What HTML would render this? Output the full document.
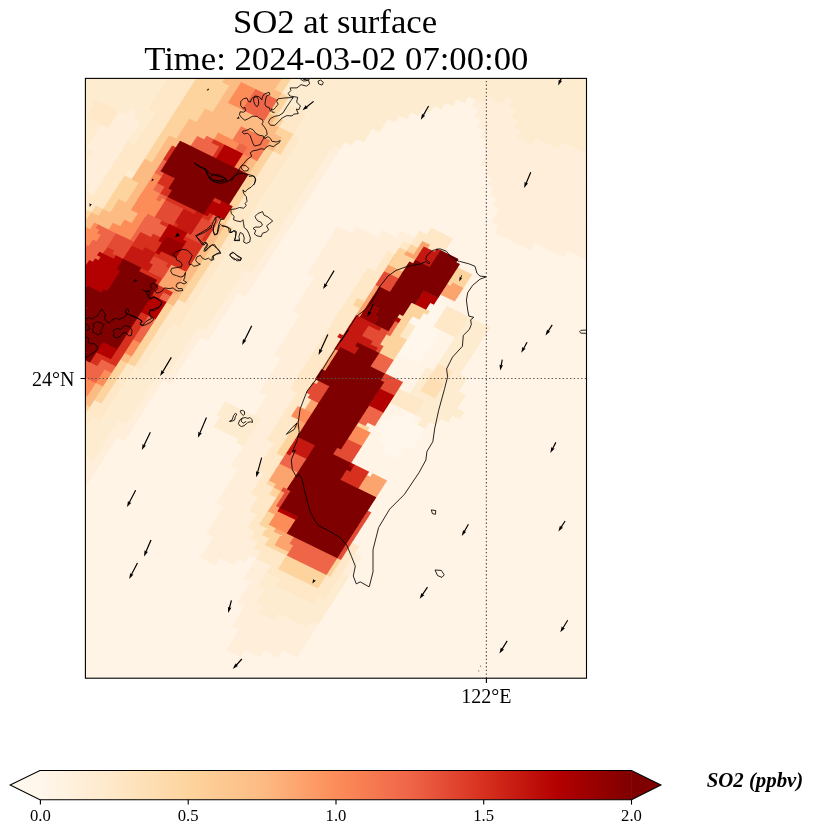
<!DOCTYPE html>
<html><head><meta charset="utf-8"><title>SO2 at surface</title>
<style>html,body{margin:0;padding:0;background:#fff}svg{display:block}text{font-family:"Liberation Serif", serif;fill:#000}</style></head><body>
<svg width="813" height="836" viewBox="0 0 813 836">
<defs><clipPath id="ax"><rect x="85.4" y="78.4" width="501.1" height="599.8000000000001"/></clipPath>
<linearGradient id="cb" x1="0" x2="1" y1="0" y2="0"><stop offset="0%" stop-color="#fff7ec"/><stop offset="12.5%" stop-color="#fee8c8"/><stop offset="25%" stop-color="#fdd49e"/><stop offset="37.5%" stop-color="#fdbb84"/><stop offset="50%" stop-color="#fc8d59"/><stop offset="62.5%" stop-color="#ef6548"/><stop offset="75%" stop-color="#d7301f"/><stop offset="87.5%" stop-color="#b30000"/><stop offset="100%" stop-color="#7f0000"/></linearGradient></defs>
<rect width="813" height="836" fill="#fff"/>
<g clip-path="url(#ax)" shape-rendering="geometricPrecision">
<rect x="85.4" y="78.4" width="501.1" height="599.8000000000001" fill="#fff4e6"/>
<path fill="#fff7ec" d="M381.5 451.7 396.5 459 401.1 451.7 386.2 444.4zM378.6 441.5 400.8 452.3 405.5 445 383.3 434.2zM375.8 431.2 412.3 449 417 441.8 380.4 423.9zM380.1 424.5 416.6 442.3 421.3 435 384.8 417.2zM391.6 421.3 420.9 435.6 425.6 428.3 396.3 414zM403.1 418 410.9 421.8 415.5 414.5 407.8 410.8zM397.4 353.4 419.6 364.2 424.2 356.9 402.1 346.1zM401.7 346.6 423.9 357.4 428.6 350.2 406.4 339.4zM406.1 339.9 428.2 350.7 432.9 343.4 410.7 332.6zM410.4 333.2 432.5 344 437.2 336.7 415.1 325.9zM407.5 322.9 436.9 337.2 441.5 330 412.2 315.7zM411.8 316.2 434 327 438.7 319.7 416.5 308.9zM416.2 309.5 438.3 320.3 443 313 420.8 302.2zM420.5 302.7 442.6 313.5 447.3 306.3 425.1 295.5z"/>
<path fill="#ffefda" d="M226 649.9 240.9 657.2 245.6 649.9 230.6 642.6zM230.3 643.1 259.6 657.4 264.3 650.2 234.9 635.9zM234.6 636.4 278.3 657.7 283 650.5 239.3 629.1zM231.7 626.2 297 658 301.7 650.7 236.4 618.9zM236.1 619.4 301.3 651.3 306 644 240.7 612.2zM240.4 612.7 305.7 644.5 310.3 637.3 245 605.4zM237.5 602.5 259.7 613.3 264.3 606 242.2 595.2zM273.5 620 310 637.8 314.7 630.5 278.1 612.7zM241.8 595.7 256.8 603 261.5 595.8 246.5 588.5zM306.5 627.3 314.3 631.1 319 623.8 311.2 620zM246.1 589 261.1 596.3 265.8 589 250.8 581.7zM200.1 557.7 215.1 565 219.8 557.7 204.8 550.4zM243.3 578.8 258.2 586.1 262.9 578.8 247.9 571.5zM75 487.9 82.8 491.6 87.5 484.4 79.7 480.6zM204.5 551 233.8 565.3 238.5 558 209.1 543.7zM247.6 572 262.6 579.3 267.2 572 252.3 564.8zM79.4 481.1 87.1 484.9 91.8 477.6 84 473.9zM208.8 544.3 245.3 562.1 250 554.8 213.5 537zM251.9 565.3 266.9 572.6 271.5 565.3 256.6 558zM76.5 470.9 91.4 478.2 96.1 470.9 81.2 463.6zM205.9 534 256.8 558.8 261.5 551.6 210.6 526.7zM80.8 464.2 95.8 471.4 100.4 464.2 85.5 456.9zM210.2 527.3 254 548.6 258.6 541.3 214.9 520zM92.3 460.9 100.1 464.7 104.8 457.4 97 453.7zM214.6 520.5 251.1 538.4 255.8 531.1 219.2 513.3zM96.6 454.2 104.4 458 109.1 450.7 101.3 446.9zM218.9 513.8 248.2 528.1 252.9 520.9 223.5 506.5zM341.1 573.4 348.9 577.2 353.5 570 345.8 566.2zM101 447.5 108.7 451.3 113.4 444 105.6 440.2zM216 503.6 252.5 521.4 257.2 514.1 220.7 496.3zM345.4 566.7 353.2 570.5 357.9 563.2 350.1 559.4zM105.3 440.7 113.1 444.5 117.7 437.2 110 433.5zM220.3 496.8 249.7 511.2 254.3 503.9 225 489.6zM349.8 560 357.5 563.8 362.2 556.5 354.4 552.7zM109.6 434 124.6 441.3 129.2 434 114.3 426.7zM224.7 490.1 254 504.4 258.7 497.2 229.3 482.8zM113.9 427.3 128.9 434.6 133.6 427.3 118.6 420zM229 483.4 251.1 494.2 255.8 486.9 233.6 476.1zM125.4 424 133.2 427.8 137.9 420.6 130.1 416.8zM233.3 476.6 255.4 487.4 260.1 480.2 238 469.4zM129.8 417.3 137.5 421.1 142.2 413.8 134.4 410zM230.4 466.4 259.8 480.7 264.4 473.4 235.1 459.1zM134.1 410.6 141.9 414.4 146.5 407.1 138.8 403.3zM234.8 459.7 256.9 470.5 261.6 463.2 239.4 452.4zM138.4 403.8 146.2 407.6 150.8 400.4 143.1 396.6zM239.1 452.9 261.2 463.7 265.9 456.5 243.7 445.7zM142.7 397.1 150.5 400.9 155.2 393.6 147.4 389.8zM243.4 446.2 265.5 457 270.2 449.7 248.1 438.9zM147.1 390.4 154.8 394.2 159.5 386.9 151.7 383.1zM247.7 439.5 269.9 450.3 274.5 443 252.4 432.2zM151.4 383.7 159.1 387.4 163.8 380.2 156 376.4zM244.9 429.2 267 440 271.7 432.8 249.5 422zM155.7 376.9 170.7 384.2 175.3 376.9 160.4 369.6zM249.2 422.5 271.3 433.3 276 426 253.8 415.2zM167.2 373.7 175 377.5 179.6 370.2 171.9 366.4zM253.5 415.8 275.6 426.6 280.3 419.3 258.2 408.5zM171.5 367 179.3 370.7 184 363.5 176.2 359.7zM257.8 409 280 419.8 284.6 412.6 262.5 401.8zM175.9 360.2 183.6 364 188.3 356.7 180.5 353zM262.1 402.3 284.3 413.1 289 405.8 266.8 395zM180.2 353.5 187.9 357.3 192.6 350 184.8 346.2zM259.3 392.1 288.6 406.4 293.3 399.1 263.9 384.8zM184.5 346.8 192.3 350.6 196.9 343.3 189.2 339.5zM263.6 385.3 292.9 399.7 297.6 392.4 268.3 378.1zM188.8 340 196.6 343.8 201.3 336.6 193.5 332.8zM267.9 378.6 290.1 389.4 294.7 382.1 272.6 371.3zM193.1 333.3 208.1 340.6 212.8 333.3 197.8 326zM272.2 371.9 294.4 382.7 299 375.4 276.9 364.6zM204.7 330.1 212.4 333.9 217.1 326.6 209.3 322.8zM276.6 365.1 298.7 375.9 303.4 368.7 281.2 357.9zM209 323.3 216.7 327.1 221.4 319.9 213.6 316.1zM273.7 354.9 303 369.2 307.7 361.9 278.4 347.6zM213.3 316.6 221.1 320.4 225.7 313.1 218 309.3zM278 348.2 307.3 362.5 312 355.2 282.7 340.9zM217.6 309.9 225.4 313.7 230.1 306.4 222.3 302.6zM282.3 341.4 311.7 355.8 316.3 348.5 287 334.2zM221.9 303.1 229.7 306.9 234.4 299.7 226.6 295.9zM286.7 334.7 316 349 320.7 341.7 291.3 327.4zM226.3 296.4 234 300.2 238.7 292.9 230.9 289.1zM291 328 320.3 342.3 325 335 295.6 320.7zM230.6 289.7 245.5 297 250.2 289.7 235.3 282.4zM295.3 321.2 324.6 335.6 329.3 328.3 300 314zM234.9 283 249.9 290.2 254.5 283 239.6 275.7zM292.4 311 329 328.8 333.6 321.6 297.1 303.7zM239.2 276.2 254.2 283.5 258.9 276.2 243.9 268.9zM296.8 304.3 333.3 322.1 337.9 314.8 301.4 297zM85.4 192.3 93.1 196.1 97.8 188.9 90 185.1zM250.7 273 258.5 276.8 263.2 269.5 255.4 265.7zM301.1 297.5 337.6 315.4 342.3 308.1 305.7 290.3zM82.5 182.1 97.5 189.4 102.1 182.1 87.2 174.8zM255.1 266.3 262.8 270.1 267.5 262.8 259.7 259zM305.4 290.8 341.9 308.6 346.6 301.4 310.1 283.5zM79.6 171.9 101.8 182.7 106.4 175.4 84.3 164.6zM259.4 259.5 267.2 263.3 271.8 256 264.1 252.3zM309.7 284.1 346.2 301.9 350.9 294.6 314.4 276.8zM83.9 165.1 106.1 175.9 110.8 168.7 88.6 157.9zM263.7 252.8 271.5 256.6 276.1 249.3 268.4 245.5zM306.8 273.8 350.6 295.2 355.2 287.9 311.5 266.6zM88.3 158.4 110.4 169.2 115.1 161.9 92.9 151.1zM268 246.1 275.8 249.9 280.5 242.6 272.7 238.8zM311.2 267.1 354.9 288.4 359.6 281.2 315.8 259.8zM85.4 148.2 114.7 162.5 119.4 155.2 90.1 140.9zM272.4 239.3 280.1 243.1 284.8 235.9 277 232.1zM315.5 260.4 359.2 281.7 363.9 274.4 320.2 253.1zM89.7 141.4 119.1 155.7 123.7 148.5 94.4 134.2zM276.7 232.6 284.4 236.4 289.1 229.1 281.3 225.3zM319.8 253.6 363.5 275 368.2 267.7 324.5 246.4zM94 134.7 123.4 149 128.1 141.7 98.7 127.4zM281 225.9 288.8 229.7 293.4 222.4 285.7 218.6zM324.1 246.9 375 271.7 379.7 264.5 328.8 239.6zM98.4 128 127.7 142.3 132.4 135 103 120.7zM285.3 219.1 293.1 222.9 297.8 215.7 290 211.9zM328.5 240.2 379.4 265 384 257.7 333.1 232.9zM102.7 121.2 132 135.5 136.7 128.3 107.4 114zM289.6 212.4 297.4 216.2 302.1 208.9 294.3 205.1zM332.8 233.4 383.7 258.3 388.4 251 337.4 226.2zM114.2 118 136.3 128.8 141 121.5 118.9 110.7zM294 205.7 301.7 209.5 306.4 202.2 298.6 198.4zM351.5 233.7 395.2 255.1 399.9 247.8 356.2 226.5zM125.7 114.8 133.5 118.6 138.1 111.3 130.4 107.5zM298.3 198.9 306 202.7 310.7 195.5 303 191.7zM377.4 237.5 399.5 248.3 404.2 241 382 230.2zM302.6 192.2 310.4 196 315 188.7 307.3 184.9zM396.1 237.8 411 245.1 415.7 237.8 400.7 230.5zM306.9 185.5 314.7 189.3 319.4 182 311.6 178.2zM311.2 178.7 319 182.5 323.7 175.3 315.9 171.5zM315.6 172 323.3 175.8 328 168.5 320.2 164.7zM319.9 165.3 327.7 169.1 332.3 161.8 324.6 158zM324.2 158.5 332 162.3 336.6 155.1 328.9 151.3zM328.5 151.8 336.3 155.6 341 148.3 333.2 144.5zM493.9 232.5 530.4 250.3 535.1 243 498.6 225.2zM491 222.2 563.5 257.6 568.2 250.3 495.7 215zM495.4 215.5 589.4 261.4 594.1 254.1 500 208.2zM492.5 205.3 586.5 251.1 591.2 243.9 497.2 198zM489.6 195 590.9 244.4 595.5 237.1 494.3 187.8zM486.8 184.8 588 234.2 592.7 226.9 491.4 177.5zM483.9 174.5 585.1 223.9 589.8 216.7 488.6 167.3zM481 164.3 589.5 217.2 594.1 209.9 485.7 157zM485.3 157.6 586.6 207 591.3 199.7 490 150.3zM482.5 147.3 590.9 200.2 595.6 193 487.1 140.1zM479.6 137.1 588 190 592.7 182.7 484.3 129.8zM476.7 126.9 585.2 179.7 589.8 172.5 481.4 119.6zM473.9 116.6 517.6 137.9 522.3 130.7 478.5 109.4zM531.4 144.7 589.5 173 594.2 165.7 536.1 137.4zM471 106.4 514.7 127.7 519.4 120.4 475.7 99.1zM557.3 148.5 586.6 162.8 591.3 155.5 562 141.2zM482.5 103.2 511.9 117.5 516.5 110.2 487.2 95.9zM583.2 152.3 590.9 156 595.6 148.8 587.9 145zM501.2 103.4 509 107.2 513.7 100 505.9 96.2z"/>
<path fill="#feecd1" d="M259.1 613 274 620.3 278.7 613 263.7 605.7zM256.2 602.7 307.1 627.6 311.8 620.3 260.9 595.5zM260.5 596 318.6 624.3 323.3 617.1 265.2 588.7zM257.7 585.8 323 617.6 327.6 610.3 262.3 578.5zM262 579 276.9 586.3 281.6 579.1 266.7 571.8zM312.3 603.6 327.3 610.9 331.9 603.6 317 596.3zM323.8 600.4 331.6 604.2 336.3 596.9 328.5 593.1zM328.2 593.6 335.9 597.4 340.6 590.1 332.8 586.4zM332.5 586.9 340.2 590.7 344.9 583.4 337.1 579.6zM77.9 453.9 92.9 461.2 97.6 453.9 82.6 446.6zM336.8 580.2 344.6 584 349.2 576.7 341.5 572.9zM75.1 443.7 97.2 454.5 101.9 447.2 79.7 436.4zM79.4 436.9 101.5 447.7 106.2 440.5 84.1 429.7zM83.7 430.2 105.9 441 110.5 433.7 88.4 422.9zM88 423.5 110.2 434.3 114.9 427 92.7 416.2zM99.6 420.3 114.5 427.5 119.2 420.3 104.2 413zM103.9 413.5 126 424.3 130.7 417.1 108.5 406.3zM108.2 406.8 130.3 417.6 135 410.3 112.9 399.5zM112.5 400.1 134.7 410.9 139.3 403.6 117.2 392.8zM116.8 393.3 139 404.1 143.7 396.9 121.5 386.1zM121.2 386.6 143.3 397.4 148 390.1 125.8 379.3zM125.5 379.9 147.6 390.7 152.3 383.4 130.2 372.6zM129.8 373.1 152 383.9 156.6 376.7 134.5 365.9zM141.3 369.9 156.3 377.2 160.9 369.9 146 362.6zM145.6 363.2 167.8 374 172.5 366.7 150.3 355.9zM150 356.4 172.1 367.2 176.8 360 154.6 349.2zM154.3 349.7 176.4 360.5 181.1 353.2 159 342.4zM158.6 343 180.8 353.8 185.4 346.5 163.3 335.7zM162.9 336.2 185.1 347 189.7 339.8 167.6 329zM167.2 329.5 189.4 340.3 194.1 333 171.9 322.2zM178.8 326.3 193.7 333.6 198.4 326.3 183.4 319zM183.1 319.6 205.2 330.4 209.9 323.1 187.8 312.3zM187.4 312.8 209.6 323.6 214.2 316.4 192.1 305.6zM417.5 425 425.3 428.8 429.9 421.6 422.2 417.8zM191.7 306.1 213.9 316.9 218.5 309.6 196.4 298.8zM414.6 414.8 436.8 425.6 441.4 418.3 419.3 407.5zM196 299.4 218.2 310.2 222.9 302.9 200.7 292.1zM418.9 408.1 448.3 422.4 453 415.1 423.6 400.8zM200.4 292.6 222.5 303.4 227.2 296.2 205 285.4zM408.9 394.3 459.8 419.2 464.5 411.9 413.6 387.1zM204.7 285.9 226.8 296.7 231.5 289.4 209.4 278.6zM413.2 387.6 421 391.4 425.6 384.1 417.9 380.3zM434.8 398.1 456.9 408.9 461.6 401.6 439.5 390.8zM209 279.2 231.2 290 235.8 282.7 213.7 271.9zM417.5 380.9 425.3 384.7 430 377.4 422.2 373.6zM439.1 391.4 461.3 402.2 465.9 394.9 443.8 384.1zM213.3 272.4 235.5 283.2 240.2 276 218 265.2zM421.9 374.1 429.6 377.9 434.3 370.6 426.5 366.9zM443.4 384.7 458.4 391.9 463.1 384.7 448.1 377.4zM73.9 195.6 81.6 199.3 86.3 192.1 78.5 188.3zM217.7 265.7 239.8 276.5 244.5 269.2 222.3 258.4zM447.7 377.9 462.7 385.2 467.4 377.9 452.4 370.7zM78.2 188.8 85.9 192.6 90.6 185.3 82.8 181.6zM222 259 251.3 273.3 256 266 226.6 251.7zM437.7 364.2 459.8 375 464.5 367.7 442.4 356.9zM75.3 178.6 83.1 182.4 87.7 175.1 80 171.3zM226.3 252.2 255.6 266.5 260.3 259.3 231 245zM442 357.4 464.2 368.2 468.8 361 446.7 350.2zM230.6 245.5 260 259.8 264.6 252.5 235.3 238.2zM446.3 350.7 468.5 361.5 473.1 354.2 451 343.4zM76.8 161.6 84.5 165.4 89.2 158.1 81.4 154.3zM234.9 238.8 264.3 253.1 269 245.8 239.6 231.5zM450.7 344 472.8 354.8 477.5 347.5 455.3 336.7zM73.9 151.4 88.8 158.7 93.5 151.4 78.6 144.1zM124.2 175.9 132 179.7 136.7 172.4 128.9 168.7zM239.3 232 268.6 246.3 273.3 239.1 243.9 224.8zM455 337.2 477.1 348 481.8 340.8 459.6 330zM78.2 144.6 86 148.4 90.6 141.2 82.9 137.4zM243.6 225.3 272.9 239.6 277.6 232.3 248.3 218zM459.3 330.5 481.4 341.3 486.1 334 464 323.2zM75.3 134.4 90.3 141.7 95 134.4 80 127.1zM247.9 218.6 277.2 232.9 281.9 225.6 252.6 211.3zM463.6 323.8 485.8 334.6 490.4 327.3 468.3 316.5zM79.7 127.7 94.6 135 99.3 127.7 84.3 120.4zM252.2 211.8 281.6 226.2 286.2 218.9 256.9 204.6zM76.8 117.4 98.9 128.2 103.6 121 81.5 110.2zM127.1 142 134.9 145.8 139.6 138.5 131.8 134.7zM256.6 205.1 285.9 219.4 290.6 212.1 261.2 197.8zM73.9 107.2 103.3 121.5 107.9 114.2 78.6 99.9zM131.5 135.3 139.2 139 143.9 131.8 136.1 128zM260.9 198.4 290.2 212.7 294.9 205.4 265.5 191.1zM78.3 100.5 114.8 118.3 119.4 111 82.9 93.2zM135.8 128.5 143.5 132.3 148.2 125 140.4 121.2zM265.2 191.6 294.5 206 299.2 198.7 269.9 184.4zM75.4 90.2 126.3 115.1 131 107.8 80 83zM132.9 118.3 147.9 125.6 152.5 118.3 137.6 111zM269.5 184.9 298.9 199.2 303.5 192 274.2 177.6zM79.7 83.5 152.2 118.8 156.9 111.6 84.4 76.2zM273.8 178.2 303.2 192.5 307.8 185.2 278.5 170.9zM76.8 73.3 149.3 108.6 154 101.3 81.5 66zM278.2 171.4 307.5 185.8 312.2 178.5 282.8 164.2zM95.5 73.5 153.6 101.9 158.3 94.6 100.2 66.3zM282.5 164.7 311.8 179 316.5 171.8 287.2 157.4zM114.2 73.8 158 95.1 162.6 87.9 118.9 66.5zM286.8 158 316.1 172.3 320.8 165 291.5 150.7zM132.9 74.1 162.3 88.4 166.9 81.1 137.6 66.8zM291.1 151.3 320.5 165.6 325.1 158.3 295.8 144zM151.6 74.4 166.6 81.7 171.3 74.4 156.3 67.1zM295.5 144.5 324.8 158.8 329.5 151.6 300.1 137.3zM292.6 134.3 329.1 152.1 333.8 144.8 297.3 127zM296.9 127.6 340.6 148.9 345.3 141.6 301.6 120.3zM207.8 75.2 215.5 79 220.2 71.7 212.4 68zM301.2 120.8 352.1 145.6 356.8 138.4 305.9 113.5zM219.3 72 234.2 79.3 238.9 72 223.9 64.7zM284 103.6 363.6 142.4 368.3 135.2 288.6 96.3zM238 72.3 245.7 76.1 250.4 68.8 242.6 65zM281.1 93.3 368 135.7 372.6 128.4 285.8 86.1zM256.7 72.6 271.6 79.9 276.3 72.6 261.3 65.3zM285.4 86.6 379.5 132.5 384.2 125.2 290.1 79.3zM275.4 72.8 383.8 125.7 388.5 118.5 280 65.6zM294.1 73.1 395.3 122.5 400 115.2 298.7 65.9zM312.8 73.4 406.8 119.3 411.5 112 317.4 66.1zM331.5 73.7 418.3 116.1 423 108.8 336.1 66.4zM350.2 74 429.9 112.8 434.5 105.6 354.9 66.7zM368.9 74.3 441.4 109.6 446 102.3 373.6 67zM387.6 74.5 452.9 106.4 457.5 99.1 392.3 67.3zM517 137.7 532 145 536.6 137.7 521.7 130.4zM406.3 74.8 464.4 103.2 469.1 95.9 411 67.6zM514.1 127.4 557.9 148.7 562.5 141.5 518.8 120.2zM425 75.1 483.1 103.4 487.8 96.2 429.7 67.8zM511.3 117.2 583.8 152.5 588.4 145.3 515.9 109.9zM436.5 71.9 501.8 103.7 506.5 96.5 441.2 64.6zM508.4 106.9 588.1 145.8 592.7 138.5 513.1 99.7zM455.2 72.2 585.2 135.6 589.9 128.3 459.9 64.9zM473.9 72.4 589.5 128.8 594.2 121.6 478.6 65.2zM492.6 72.7 586.7 118.6 591.3 111.3 497.3 65.5zM511.3 73 591 111.9 595.7 104.6 516 65.7zM530 73.3 588.1 101.6 592.8 94.4 534.7 66zM548.7 73.6 585.3 91.4 589.9 84.1 553.4 66.3zM567.4 73.9 589.6 84.7 594.2 77.4 572.1 66.6z"/>
<path fill="#fee8c8" d="M276.4 586.1 312.9 603.9 317.6 596.6 281 578.8zM266.3 572.3 324.4 600.6 329.1 593.4 271 565zM256.2 558.6 328.7 593.9 333.4 586.6 260.9 551.3zM253.4 548.3 282.7 562.6 287.4 555.4 258 541.1zM296.5 569.4 333 587.2 337.7 579.9 301.2 562.1zM250.5 538.1 265.5 545.4 270.1 538.1 255.2 530.8zM329.6 576.7 337.4 580.4 342 573.2 334.3 569.4zM247.6 527.8 262.6 535.1 267.3 527.9 252.3 520.6zM333.9 569.9 341.7 573.7 346.4 566.4 338.6 562.7zM252 521.1 259.7 524.9 264.4 517.6 256.6 513.8zM338.2 563.2 346 567 350.7 559.7 342.9 555.9zM76.5 426.7 84.3 430.5 89 423.2 81.2 419.4zM249.1 510.9 264.1 518.2 268.7 510.9 253.8 503.6zM335.4 553 350.3 560.3 355 553 340 545.7zM80.8 420 88.6 423.8 93.3 416.5 85.5 412.7zM253.4 504.1 268.4 511.4 273 504.2 258.1 496.9zM332.5 542.7 354.7 553.5 359.3 546.2 337.2 535.4zM85.2 413.2 100.1 420.5 104.8 413.3 89.8 406zM250.5 493.9 272.7 504.7 277.4 497.4 255.2 486.6zM329.6 532.5 344.6 539.8 349.3 532.5 334.3 525.2zM89.5 406.5 104.4 413.8 109.1 406.5 94.2 399.2zM254.9 487.2 269.8 494.5 274.5 487.2 259.5 479.9zM326.8 522.2 334.5 526 339.2 518.8 331.4 515zM101 403.3 108.8 407.1 113.4 399.8 105.7 396zM259.2 480.4 267 484.2 271.6 477 263.9 473.2zM105.3 396.6 113.1 400.3 117.8 393.1 110 389.3zM256.3 470.2 271.3 477.5 275.9 470.2 261 462.9zM109.6 389.8 117.4 393.6 122.1 386.3 114.3 382.5zM260.6 463.5 275.6 470.8 280.3 463.5 265.3 456.2zM114 383.1 121.7 386.9 126.4 379.6 118.6 375.8zM265 456.7 279.9 464 284.6 456.8 269.6 449.5zM118.3 376.4 126.1 380.1 130.7 372.9 123 369.1zM269.3 450 277.1 453.8 281.7 446.5 274 442.7zM122.6 369.6 130.4 373.4 135 366.1 127.3 362.4zM266.4 439.8 281.4 447.1 286 439.8 271.1 432.5zM134.1 366.4 141.9 370.2 146.6 362.9 138.8 359.1zM270.7 433 285.7 440.3 290.4 433.1 275.4 425.8zM138.4 359.7 146.2 363.5 150.9 356.2 143.1 352.4zM275.1 426.3 290 433.6 294.7 426.3 279.7 419zM142.8 352.9 150.5 356.7 155.2 349.5 147.4 345.7zM279.4 419.6 294.3 426.9 299 419.6 284.1 412.3zM147.1 346.2 154.9 350 159.5 342.7 151.8 338.9zM283.7 412.8 298.7 420.1 303.3 412.9 288.4 405.6zM151.4 339.5 159.2 343.3 163.8 336 156.1 332.2zM288 406.1 303 413.4 307.7 406.1 292.7 398.8zM155.7 332.7 163.5 336.5 168.2 329.3 160.4 325.5zM292.4 399.4 307.3 406.7 312 399.4 297 392.1zM160.1 326 167.8 329.8 172.5 322.5 164.7 318.7zM289.5 389.1 311.6 399.9 316.3 392.7 294.2 381.9zM164.4 319.3 179.3 326.6 184 319.3 169 312zM293.8 382.4 308.8 389.7 313.4 382.4 298.5 375.1zM168.7 312.5 183.7 319.8 188.3 312.6 173.4 305.3zM298.1 375.7 313.1 383 317.8 375.7 302.8 368.4zM173 305.8 188 313.1 192.6 305.8 177.7 298.5zM302.5 368.9 317.4 376.2 322.1 369 307.1 361.7zM184.5 302.6 192.3 306.4 197 299.1 189.2 295.3zM306.8 362.2 321.7 369.5 326.4 362.2 311.4 354.9zM385.9 400.8 415.2 415.1 419.9 407.8 390.5 393.5zM188.9 295.9 196.6 299.6 201.3 292.4 193.5 288.6zM311.1 355.5 326.1 362.8 330.7 355.5 315.8 348.2zM390.2 394 419.5 408.4 424.2 401.1 394.9 386.8zM193.2 289.1 200.9 292.9 205.6 285.6 197.8 281.8zM315.4 348.7 330.4 356 335 348.8 320.1 341.5zM197.5 282.4 205.3 286.2 209.9 278.9 202.2 275.1zM319.7 342 334.7 349.3 339.4 342 324.4 334.7zM201.8 275.7 209.6 279.4 214.3 272.2 206.5 268.4zM324.1 335.3 339 342.6 343.7 335.3 328.7 328zM76.7 205.8 91.7 213.1 96.3 205.8 81.4 198.5zM206.1 268.9 213.9 272.7 218.6 265.4 210.8 261.7zM328.4 328.5 343.3 335.8 348 328.6 333 321.3zM81 199.1 103.2 209.9 107.9 202.6 85.7 191.8zM210.5 262.2 218.2 266 222.9 258.7 215.1 254.9zM332.7 321.8 347.7 329.1 352.3 321.8 337.4 314.5zM92.6 195.8 107.5 203.1 112.2 195.9 97.2 188.6zM214.8 255.5 222.6 259.2 227.2 252 219.5 248.2zM337 315.1 352 322.4 356.6 315.1 341.7 307.8zM96.9 189.1 111.8 196.4 116.5 189.1 101.5 181.8zM219.1 248.7 226.9 252.5 231.5 245.2 223.8 241.5zM341.3 308.3 356.3 315.6 361 308.4 346 301.1zM398.9 336.4 406.6 340.2 411.3 332.9 403.5 329.1zM101.2 182.4 116.2 189.7 120.8 182.4 105.9 175.1zM223.4 242 231.2 245.8 235.9 238.5 228.1 234.7zM345.7 301.6 353.4 305.4 358.1 298.1 350.3 294.3zM403.2 329.7 411 333.5 415.6 326.2 407.9 322.4zM105.5 175.6 120.5 182.9 125.1 175.7 110.2 168.4zM227.8 235.3 235.5 239.1 240.2 231.8 232.4 228zM350 294.9 364.9 302.2 369.6 294.9 354.7 287.6zM109.8 168.9 124.8 176.2 129.5 168.9 114.5 161.6zM224.9 225 239.8 232.3 244.5 225 229.6 217.8zM354.3 288.1 369.3 295.4 373.9 288.2 359 280.9zM433.4 326.7 455.6 337.5 460.2 330.3 438.1 319.5zM114.2 162.2 136.3 173 141 165.7 118.8 154.9zM229.2 218.3 244.2 225.6 248.8 218.3 233.9 211zM358.6 281.4 373.6 288.7 378.3 281.4 363.3 274.1zM437.7 320 459.9 330.8 464.5 323.5 442.4 312.7zM118.5 155.4 140.6 166.3 145.3 159 123.2 148.2zM233.5 211.6 248.5 218.9 253.2 211.6 238.2 204.3zM363 274.7 377.9 282 382.6 274.7 367.6 267.4zM442.1 313.3 464.2 324.1 468.9 316.8 446.7 306zM122.8 148.7 145 159.5 149.6 152.2 127.5 141.4zM237.9 204.8 252.8 212.1 257.5 204.9 242.5 197.6zM374.5 271.5 382.2 275.2 386.9 268 379.1 264.2zM134.3 145.5 149.3 152.8 153.9 145.5 139 138.2zM242.2 198.1 257.1 205.4 261.8 198.1 246.8 190.8zM378.8 264.7 386.6 268.5 391.2 261.2 383.5 257.5zM138.6 138.8 153.6 146.1 158.3 138.8 143.3 131.5zM246.5 191.4 261.5 198.7 266.1 191.4 251.2 184.1zM383.1 258 390.9 261.8 395.5 254.5 387.8 250.7zM419.1 275.5 426.8 279.3 431.5 272 423.7 268.3zM143 132 157.9 139.3 162.6 132.1 147.6 124.8zM250.8 184.6 265.8 191.9 270.4 184.7 255.5 177.4zM423.4 268.8 431.2 272.6 435.8 265.3 428.1 261.5zM147.3 125.3 162.2 132.6 166.9 125.3 152 118zM255.1 177.9 270.1 185.2 274.8 177.9 259.8 170.6zM398.9 248 406.7 251.8 411.4 244.6 403.6 240.8zM420.5 258.6 442.7 269.4 447.3 262.1 425.2 251.3zM151.6 118.6 166.6 125.9 171.2 118.6 156.3 111.3zM259.5 171.2 274.4 178.5 279.1 171.2 264.1 163.9zM410.5 244.8 418.2 248.6 422.9 241.3 415.1 237.5zM424.8 251.8 439.8 259.1 444.5 251.9 429.5 244.6zM148.7 108.3 170.9 119.1 175.6 111.9 153.4 101.1zM263.8 164.4 278.7 171.7 283.4 164.5 268.5 157.2zM414.8 238.1 444.1 252.4 448.8 245.1 419.4 230.8zM153.1 101.6 175.2 112.4 179.9 105.1 157.7 94.3zM268.1 157.7 283.1 165 287.7 157.7 272.8 150.4zM426.3 234.9 448.4 245.7 453.1 238.4 431 227.6zM157.4 94.9 179.5 105.7 184.2 98.4 162.1 87.6zM279.6 154.5 287.4 158.3 292.1 151 284.3 147.2zM161.7 88.1 183.9 98.9 188.5 91.7 166.4 80.9zM283.9 147.7 291.7 151.5 296.4 144.3 288.6 140.5zM166 81.4 188.2 92.2 192.8 84.9 170.7 74.1zM288.3 141 296 144.8 300.7 137.5 292.9 133.7zM170.3 74.7 192.5 85.5 197.2 78.2 175 67.4zM278.2 127.3 293.2 134.6 297.8 127.3 282.9 120zM189.1 74.9 196.8 78.7 201.5 71.5 193.7 67.7zM275.3 117 297.5 127.8 302.1 120.6 280 109.8zM279.7 110.3 301.8 121.1 306.5 113.8 284.3 103zM245.2 75.8 252.9 79.6 257.6 72.3 249.8 68.5z"/>
<path fill="#fee3be" d="M429 377.6 444 384.9 448.7 377.7 433.7 370.4zM433.4 370.9 448.3 378.2 453 370.9 438 363.6z"/>
<path fill="#fedeb3" d="M420.4 391.1 435.4 398.4 440 391.1 425.1 383.8zM424.7 384.4 439.7 391.7 444.3 384.4 429.4 377.1z"/>
<path fill="#fdd49e" d="M282.1 562.3 297.1 569.6 301.8 562.4 286.8 555.1zM264.9 545.1 330.2 576.9 334.8 569.7 269.6 537.8zM262 534.9 277 542.2 281.6 534.9 266.7 527.6zM298 552.4 334.5 570.2 339.2 562.9 302.6 545.1zM259.2 524.6 274.1 531.9 278.8 524.6 263.8 517.3zM316.7 552.7 338.8 563.5 343.5 556.2 321.3 545.4zM263.5 517.9 271.2 521.7 275.9 514.4 268.1 510.6zM328.2 549.4 336 553.2 340.6 546 332.9 542.2zM325.3 539.2 333.1 543 337.8 535.7 330 531.9zM78 409.7 85.7 413.5 90.4 406.3 82.6 402.5zM269.3 494.2 277 498 281.7 490.7 273.9 486.9zM93.8 399.8 101.6 403.6 106.2 396.3 98.5 392.5zM266.4 483.9 274.1 487.7 278.8 480.5 271.1 476.7zM98.1 393 105.9 396.8 110.6 389.6 102.8 385.8zM270.7 477.2 278.5 481 283.1 473.7 275.4 469.9zM102.5 386.3 110.2 390.1 114.9 382.8 107.1 379zM106.8 379.6 114.5 383.4 119.2 376.1 111.4 372.3zM329.7 488.3 337.4 492.1 342.1 484.8 334.3 481zM111.1 372.8 118.9 376.6 123.5 369.4 115.8 365.6zM276.5 453.5 284.2 457.3 288.9 450 281.1 446.2zM334 481.6 341.8 485.4 346.4 478.1 338.7 474.3zM115.4 366.1 123.2 369.9 127.9 362.6 120.1 358.8zM280.8 446.8 288.6 450.6 293.2 443.3 285.5 439.5zM126.9 362.9 134.7 366.7 139.4 359.4 131.6 355.6zM285.1 440 292.9 443.8 297.6 436.6 289.8 432.8zM335.5 464.6 343.2 468.4 347.9 461.1 340.1 457.3zM131.3 356.2 139 359.9 143.7 352.7 135.9 348.9zM289.4 433.3 297.2 437.1 301.9 429.8 294.1 426zM339.8 457.9 347.5 461.6 352.2 454.4 344.4 450.6zM135.6 349.4 143.3 353.2 148 345.9 140.2 342.2zM344.1 451.1 351.9 454.9 356.5 447.6 348.8 443.9zM139.9 342.7 147.7 346.5 152.3 339.2 144.6 335.4zM341.2 440.9 356.2 448.2 360.9 440.9 345.9 433.6zM144.2 336 152 339.8 156.7 332.5 148.9 328.7zM345.6 434.2 360.5 441.5 365.2 434.2 350.2 426.9zM148.5 329.2 156.3 333 161 325.7 153.2 322zM349.9 427.4 364.8 434.7 369.5 427.4 354.5 420.2zM152.9 322.5 160.6 326.3 165.3 319 157.5 315.2zM347 417.2 362 424.5 366.6 417.2 351.7 409.9zM157.2 315.8 165 319.6 169.6 312.3 161.9 308.5zM308.2 389.4 316 393.2 320.6 385.9 312.9 382.1zM351.3 410.5 366.3 417.7 371 410.5 356 403.2zM161.5 309 169.3 312.8 173.9 305.6 166.2 301.8zM312.5 382.7 320.3 386.5 324.9 379.2 317.2 375.4zM355.7 403.7 370.6 411 375.3 403.7 360.3 396.5zM352.8 393.5 374.9 404.3 379.6 397 357.5 386.2zM177.3 299.1 185.1 302.9 189.8 295.6 182 291.8zM357.1 386.8 379.3 397.6 383.9 390.3 361.8 379.5zM181.7 292.3 189.4 296.1 194.1 288.9 186.3 285.1zM361.4 380 383.6 390.8 388.2 383.6 366.1 372.7zM186 285.6 193.8 289.4 198.4 282.1 190.7 278.3zM358.6 369.8 380.7 380.6 385.4 373.3 363.2 362.5zM190.3 278.9 198.1 282.7 202.7 275.4 195 271.6zM362.9 363 385 373.8 389.7 366.6 367.5 355.8zM79.6 216 87.4 219.8 92 212.6 84.3 208.8zM194.6 272.1 202.4 275.9 207.1 268.7 199.3 264.9zM367.2 356.3 389.3 367.1 394 359.8 371.9 349zM91.1 212.8 98.9 216.6 103.5 209.3 95.8 205.5zM199 265.4 206.7 269.2 211.4 261.9 203.6 258.1zM371.5 349.6 393.7 360.4 398.3 353.1 376.2 342.3zM102.6 209.6 110.4 213.4 115 206.1 107.3 202.3zM203.3 258.7 211 262.5 215.7 255.2 207.9 251.4zM375.8 342.9 398 353.7 402.7 346.4 380.5 335.6zM106.9 202.9 114.7 206.6 119.4 199.4 111.6 195.6zM207.6 252 215.4 255.7 220 248.5 212.3 244.7zM380.2 336.1 402.3 346.9 407 339.7 384.8 328.8zM111.3 196.1 126.2 203.4 130.9 196.1 115.9 188.9zM211.9 245.2 219.7 249 224.4 241.7 216.6 238zM377.3 325.9 399.4 336.7 404.1 329.4 382 318.6zM115.6 189.4 130.5 196.7 135.2 189.4 120.2 182.1zM216.2 238.5 224 242.3 228.7 235 220.9 231.2zM352.9 305.1 360.6 308.9 365.3 301.6 357.5 297.9zM381.6 319.1 403.8 330 408.4 322.7 386.3 311.9zM119.9 182.7 134.9 190 139.5 182.7 124.6 175.4zM220.6 231.8 228.3 235.5 233 228.3 225.2 224.5zM385.9 312.4 408.1 323.2 412.8 315.9 390.6 305.1zM217.7 221.5 225.5 225.3 230.1 218 222.4 214.2zM397.5 309.2 412.4 316.5 417.1 309.2 402.1 301.9zM222 214.8 229.8 218.6 234.5 211.3 226.7 207.5zM401.8 302.5 416.7 309.8 421.4 302.5 406.4 295.2zM226.3 208.1 234.1 211.8 238.8 204.6 231 200.8zM144.4 159.2 152.1 163 156.8 155.8 149 152zM230.7 201.3 238.4 205.1 243.1 197.8 235.3 194.1zM148.7 152.5 156.5 156.3 161.1 149 153.4 145.2zM235 194.6 242.8 198.4 247.4 191.1 239.7 187.3zM414.7 282.3 422.5 286.1 427.2 278.8 419.4 275zM153 145.8 160.8 149.6 165.5 142.3 157.7 138.5zM239.3 187.9 247.1 191.6 251.7 184.4 244 180.6zM157.3 139 165.1 142.8 169.8 135.6 162 131.8zM243.6 181.1 251.4 184.9 256.1 177.6 248.3 173.9zM394.6 254.8 402.4 258.6 407.1 251.3 399.3 247.5zM161.7 132.3 176.6 139.6 181.3 132.3 166.3 125zM248 174.4 255.7 178.2 260.4 170.9 252.6 167.1zM406.1 251.5 413.9 255.3 418.6 248.1 410.8 244.3zM166 125.6 180.9 132.9 185.6 125.6 170.7 118.3zM252.3 167.7 260 171.4 264.7 164.2 256.9 160.4zM170.3 118.8 185.3 126.1 189.9 118.9 175 111.6zM256.6 160.9 264.4 164.7 269 157.4 261.3 153.7zM174.6 112.1 196.8 122.9 201.4 115.6 179.3 104.8zM260.9 154.2 268.7 158 273.3 150.7 265.6 146.9zM179 105.4 201.1 116.2 205.8 108.9 183.6 98.1zM272.4 151 280.2 154.8 284.9 147.5 277.1 143.7zM183.3 98.6 212.6 113 217.3 105.7 187.9 91.4zM276.8 144.2 284.5 148 289.2 140.8 281.4 137zM187.6 91.9 216.9 106.2 221.6 99 192.3 84.6zM273.9 134 288.8 141.3 293.5 134 278.5 126.7zM191.9 85.2 221.3 99.5 225.9 92.2 196.6 77.9zM271 123.8 278.8 127.5 283.4 120.3 275.7 116.5zM196.2 78.5 225.6 92.8 230.2 85.5 200.9 71.2zM268.1 113.5 275.9 117.3 280.6 110 272.8 106.3zM214.9 78.7 222.7 82.5 227.4 75.3 219.6 71.5zM272.5 106.8 280.2 110.6 284.9 103.3 277.1 99.5zM276.8 100.1 284.6 103.8 289.2 96.6 281.5 92.8zM273.9 89.8 281.7 93.6 286.4 86.3 278.6 82.5zM278.2 83.1 286 86.9 290.7 79.6 282.9 75.8z"/>
<path fill="#fdbb84" d="M75.1 399.5 90.1 406.8 94.7 399.5 79.8 392.2zM86.6 396.3 94.4 400.1 99.1 392.8 91.3 389zM90.9 389.5 98.7 393.3 103.4 386.1 95.6 382.3zM119.7 359.4 127.5 363.2 132.2 355.9 124.4 352.1zM165.8 302.3 173.6 306.1 178.3 298.8 170.5 295zM170.2 295.6 177.9 299.4 182.6 292.1 174.8 288.3zM174.5 288.8 182.2 292.6 186.9 285.4 179.1 281.6zM178.8 282.1 186.6 285.9 191.2 278.6 183.5 274.8zM75.3 222.8 90.2 230.1 94.9 222.8 79.9 215.5zM183.1 275.4 190.9 279.2 195.6 271.9 187.8 268.1zM86.8 219.5 108.9 230.3 113.6 223.1 91.4 212.3zM187.4 268.6 195.2 272.4 199.9 265.2 192.1 261.4zM98.3 216.3 120.4 227.1 125.1 219.9 103 209zM191.8 261.9 199.5 265.7 204.2 258.4 196.4 254.6zM109.8 213.1 131.9 223.9 136.6 216.6 114.5 205.8zM196.1 255.2 203.9 259 208.5 251.7 200.8 247.9zM114.1 206.4 136.3 217.2 140.9 209.9 118.8 199.1zM200.4 248.4 208.2 252.2 212.8 245 205.1 241.2zM125.6 203.1 140.6 210.4 145.3 203.2 130.3 195.9zM204.7 241.7 212.5 245.5 217.2 238.2 209.4 234.4zM130 196.4 137.7 200.2 142.4 192.9 134.6 189.1zM209.1 235 216.8 238.8 221.5 231.5 213.7 227.7zM134.3 189.7 142 193.5 146.7 186.2 138.9 182.4zM213.4 228.2 221.1 232 225.8 224.8 218 221zM131.4 179.4 146.4 186.7 151 179.5 136.1 172.2zM135.7 172.7 150.7 180 155.4 172.7 140.4 165.4zM140.1 166 155 173.3 159.7 166 144.7 158.7zM151.6 162.7 159.3 166.5 164 159.3 156.2 155.5zM155.9 156 163.7 159.8 168.3 152.5 160.6 148.7zM160.2 149.3 168 153.1 172.6 145.8 164.9 142zM164.5 142.5 179.5 149.8 184.2 142.6 169.2 135.3zM176 139.3 191 146.6 195.7 139.3 180.7 132.1zM240.8 170.9 248.5 174.7 253.2 167.4 245.4 163.6zM180.4 132.6 202.5 143.4 207.2 136.1 185 125.3zM245.1 164.2 252.8 167.9 257.5 160.7 249.7 156.9zM184.7 125.9 214 140.2 218.7 132.9 189.4 118.6zM196.2 122.6 232.7 140.4 237.4 133.2 200.9 115.4zM200.5 115.9 237.1 133.7 241.7 126.4 205.2 108.6zM265.2 147.5 273 151.3 277.7 144 269.9 140.2zM212 112.7 277.3 144.5 282 137.2 216.7 105.4zM216.4 105.9 274.5 134.3 279.1 127 221 98.7zM220.7 99.2 228.4 103 233.1 95.7 225.3 91.9zM263.8 120.3 271.6 124 276.3 116.8 268.5 113zM225 92.5 232.8 96.3 237.4 89 229.7 85.2zM222.1 82.2 237.1 89.5 241.8 82.3 226.8 75zM233.6 79 277.4 100.3 282 93.1 238.3 71.7zM252.3 79.3 274.5 90.1 279.2 82.8 257 72zM271.1 79.6 278.8 83.4 283.5 76.1 275.7 72.3z"/>
<path fill="#fca46e" d="M276.4 541.9 298.5 552.7 303.2 545.4 281.1 534.6zM273.5 531.6 317.3 553 321.9 545.7 278.2 524.4zM270.7 521.4 328.8 549.7 333.4 542.5 275.3 514.1zM267.8 511.2 325.9 539.5 330.6 532.2 272.5 503.9zM272.1 504.4 330.2 532.8 334.9 525.5 276.8 497.2zM276.4 497.7 327.3 522.5 332 515.2 281.1 490.4zM273.6 487.5 324.5 512.3 329.1 505 278.2 480.2zM277.9 480.7 328.8 505.5 333.5 498.3 282.6 473.4zM275 470.5 333.1 498.8 337.8 491.5 279.7 463.2zM279.3 463.7 330.3 488.6 334.9 481.3 284 456.5zM283.7 457 334.6 481.8 339.2 474.6 288.3 449.7zM288 450.3 338.9 475.1 343.6 467.8 292.7 443zM292.3 443.6 336 464.9 340.7 457.6 297 436.3zM296.6 436.8 340.4 458.1 345 450.9 301.3 429.5zM293.8 426.6 344.7 451.4 349.3 444.1 298.4 419.3zM298.1 419.8 341.8 441.2 346.5 433.9 302.8 412.6zM302.4 413.1 346.1 434.4 350.8 427.2 307.1 405.8zM306.7 406.4 350.5 427.7 355.1 420.4 311.4 399.1zM311.1 399.7 347.6 417.5 352.3 410.2 315.7 392.4zM315.4 392.9 351.9 410.7 356.6 403.5 320 385.6zM319.7 386.2 356.2 404 360.9 396.7 324.4 378.9zM316.8 375.9 353.4 393.8 358 386.5 321.5 368.7zM321.2 369.2 357.7 387 362.3 379.8 325.8 361.9zM325.5 362.5 362 380.3 366.7 373 330.1 355.2zM329.8 355.8 359.1 370.1 363.8 362.8 334.5 348.5zM334.1 349 363.5 363.3 368.1 356.1 338.8 341.7zM338.4 342.3 367.8 356.6 372.4 349.3 343.1 335zM342.8 335.6 372.1 349.9 376.8 342.6 347.4 328.3zM347.1 328.8 376.4 343.1 381.1 335.9 351.8 321.6zM351.4 322.1 380.7 336.4 385.4 329.1 356.1 314.8zM355.7 315.4 377.9 326.2 382.5 318.9 360.4 308.1zM360.1 308.6 382.2 319.4 386.9 312.2 364.7 301.4zM364.4 301.9 386.5 312.7 391.2 305.4 369 294.6zM368.7 295.2 398 309.5 402.7 302.2 373.4 287.9zM373 288.4 402.4 302.7 407 295.5 377.7 281.2zM377.3 281.7 413.9 299.5 418.5 292.2 382 274.4zM381.7 275 418.2 292.8 422.9 285.5 386.3 267.7zM386 268.2 415.3 282.5 420 275.3 390.6 261zM390.3 261.5 419.6 275.8 424.3 268.5 395 254.2zM401.8 258.3 424 269.1 428.6 261.8 406.5 251zM413.3 255.1 421.1 258.8 425.8 251.6 418 247.8zM417.7 248.3 425.4 252.1 430.1 244.8 422.3 241.1z"/>
<path fill="#fc8d59" d="M79.4 392.8 87.2 396.6 91.9 389.3 84.1 385.5zM76.6 382.5 91.5 389.8 96.2 382.5 81.2 375.3zM95.3 382.8 103 386.6 107.7 379.3 99.9 375.5zM99.6 376.1 107.4 379.9 112 372.6 104.3 368.8zM124.1 352.7 131.8 356.4 136.5 349.2 128.7 345.4zM128.4 345.9 136.2 349.7 140.8 342.4 133.1 338.6zM73.8 239.7 88.8 247 93.4 239.8 78.5 232.5zM78.1 233 107.5 247.3 112.1 240 82.8 225.7zM89.6 229.8 119 244.1 123.7 236.8 94.3 222.5zM108.3 230.1 130.5 240.9 135.2 233.6 113 222.8zM119.9 226.8 134.8 234.1 139.5 226.9 124.5 219.6zM131.4 223.6 139.1 227.4 143.8 220.1 136 216.3zM135.7 216.9 143.5 220.7 148.1 213.4 140.4 209.6zM140 210.2 147.8 213.9 152.5 206.7 144.7 202.9zM137.1 199.9 152.1 207.2 156.8 199.9 141.8 192.6zM141.5 193.2 156.4 200.5 161.1 193.2 146.1 185.9zM145.8 186.4 153.6 190.2 158.2 183 150.5 179.2zM150.1 179.7 157.9 183.5 162.5 176.2 154.8 172.4zM223.5 197.8 231.2 201.6 235.9 194.3 228.1 190.5zM227.8 191.1 235.6 194.9 240.2 187.6 232.5 183.8zM232.1 184.4 239.9 188.1 244.5 180.9 236.8 177.1zM236.4 177.6 244.2 181.4 248.9 174.1 241.1 170.3zM233.6 167.4 241.3 171.2 246 163.9 238.2 160.1zM237.9 160.6 245.7 164.4 250.3 157.2 242.6 153.4zM213.5 139.9 235.6 150.7 240.3 143.4 218.1 132.6zM227.9 102.7 242.8 110 247.5 102.7 232.5 95.4zM232.2 96 247.1 103.3 251.8 96 236.9 88.7zM236.5 89.3 251.5 96.5 256.1 89.3 241.2 82z"/>
<path fill="#f67951" d="M242.2 153.9 257.2 161.2 261.8 153.9 246.9 146.6zM232.2 140.2 261.5 154.5 266.2 147.2 236.8 132.9zM236.5 133.4 265.8 147.7 270.5 140.5 241.1 126.2z"/>
<path fill="#ef6548" d="M80.9 375.8 95.8 383.1 100.5 375.8 85.6 368.5zM78 365.6 100.2 376.4 104.8 369.1 82.7 358.3zM96.7 365.8 111.7 373.1 116.3 365.9 101.4 358.6zM132.7 339.2 140.5 343 145.1 335.7 137.4 331.9zM137 332.5 144.8 336.2 149.5 329 141.7 325.2zM141.4 325.7 149.1 329.5 153.8 322.2 146 318.5zM145.7 319 153.4 322.8 158.1 315.5 150.3 311.7zM150 312.3 157.8 316 162.4 308.8 154.7 305zM75.2 267 83 270.7 87.7 263.5 79.9 259.7zM154.3 305.5 162.1 309.3 166.8 302 159 298.3zM79.5 260.2 94.5 267.5 99.2 260.2 84.2 252.9zM158.6 298.8 166.4 302.6 171.1 295.3 163.3 291.5zM76.7 250 98.8 260.8 103.5 253.5 81.3 242.7zM88.2 246.8 103.1 254 107.8 246.8 92.9 239.5zM106.9 247 121.9 254.3 126.5 247.1 111.6 239.8zM118.4 243.8 133.4 251.1 138 243.8 123.1 236.5zM129.9 240.6 137.7 244.4 142.4 237.1 134.6 233.3zM134.2 233.9 149.2 241.1 153.9 233.9 138.9 226.6zM138.6 227.1 153.5 234.4 158.2 227.1 143.2 219.9zM142.9 220.4 157.8 227.7 162.5 220.4 147.6 213.1zM147.2 213.7 162.2 221 166.8 213.7 151.9 206.4zM151.5 206.9 159.3 210.7 164 203.4 156.2 199.7zM155.9 200.2 163.6 204 168.3 196.7 160.5 192.9zM206.2 224.7 214 228.5 218.6 221.3 210.9 217.5zM153 190 160.7 193.7 165.4 186.5 157.7 182.7zM210.5 218 218.3 221.8 222.9 214.5 215.2 210.7zM214.8 211.3 222.6 215.1 227.3 207.8 219.5 204zM154.4 173 162.2 176.8 166.9 169.5 159.1 165.7zM219.2 204.5 226.9 208.3 231.6 201.1 223.8 197.3zM158.8 166.3 166.5 170 171.2 162.8 163.4 159zM178.9 149.6 186.7 153.3 191.3 146.1 183.6 142.3zM229.2 174.1 237 177.9 241.7 170.6 233.9 166.8zM190.4 146.3 198.2 150.1 202.9 142.9 195.1 139.1zM201.9 143.1 209.7 146.9 214.4 139.6 206.6 135.8zM235 150.4 242.8 154.2 247.5 146.9 239.7 143.1zM242.3 109.7 264.4 120.5 269.1 113.3 246.9 102.5zM246.6 103 268.7 113.8 273.4 106.5 251.2 95.7zM250.9 96.3 273 107.1 277.7 99.8 255.6 89z"/>
<path fill="#d7301f" d="M75.2 355.3 97.3 366.1 102 358.8 79.8 348zM79.5 348.6 116 366.4 120.7 359.1 84.1 341.3zM76.6 338.3 120.3 359.7 125 352.4 81.3 331.1zM80.9 331.6 124.6 352.9 129.3 345.7 85.6 324.3zM78.1 321.4 129 346.2 133.6 338.9 82.7 314.1zM75.2 311.1 133.3 339.5 138 332.2 79.9 303.9zM79.5 304.4 137.6 332.7 142.3 325.5 84.2 297.1zM76.6 294.2 141.9 326 146.6 318.7 81.3 286.9zM81 287.4 146.3 319.3 150.9 312 85.6 280.2zM78.1 277.2 150.6 312.5 155.2 305.3 82.8 269.9zM82.4 270.5 154.9 305.8 159.6 298.5 87.1 263.2zM93.9 267.2 159.2 299.1 163.9 291.8 98.6 260zM98.3 260.5 170.7 295.9 175.4 288.6 102.9 253.2zM102.6 253.8 175.1 289.1 179.7 281.8 107.2 246.5zM121.3 254.1 179.4 282.4 184 275.1 125.9 246.8zM132.8 250.8 183.7 275.7 188.4 268.4 137.5 243.6zM137.1 244.1 188 268.9 192.7 261.7 141.8 236.8zM148.6 240.9 192.3 262.2 197 254.9 153.3 233.6zM152.9 234.1 196.7 255.5 201.3 248.2 157.6 226.9zM157.3 227.4 201 248.7 205.7 241.5 161.9 220.1zM161.6 220.7 205.3 242 210 234.7 166.3 213.4zM158.7 210.4 209.6 235.3 214.3 228 163.4 203.2zM163 203.7 206.8 225 211.4 217.8 167.7 196.4zM160.2 193.5 211.1 218.3 215.7 211 164.8 186.2zM157.3 183.2 215.4 211.6 220.1 204.3 162 176zM161.6 176.5 219.7 204.8 224.4 197.6 166.3 169.2zM165.9 169.8 224 198.1 228.7 190.8 170.6 162.5zM163.1 159.5 228.4 191.4 233 184.1 167.7 152.2zM167.4 152.8 232.7 184.6 237.4 177.4 172.1 145.5zM186.1 153.1 229.8 174.4 234.5 167.1 190.8 145.8zM197.6 149.8 234.1 167.7 238.8 160.4 202.3 142.6zM209.1 146.6 238.5 160.9 243.1 153.7 213.8 139.3z"/>
<path fill="#feecd1" d="M236.4 442.6 243.9 446.3 246.2 442.7 238.8 439zM213.4 427 246.1 442.9 248.4 439.3 215.8 423.4zM215.6 423.6 248.2 439.6 250.6 435.9 217.9 420zM217.8 420.3 250.4 436.2 252.7 432.6 220.1 416.6zM216.3 415.1 252.6 432.8 254.9 429.2 218.7 411.5zM218.5 411.8 254.7 429.5 257.1 425.8 220.8 408.1zM220.6 408.4 256.9 426.1 259.2 422.5 223 404.8zM222.8 405.1 259 422.7 261.4 419.1 225.1 401.4z"/>
<path fill="#fee8c8" d="M86.4 117.5 108.2 128.2 110.6 124.5 88.7 113.9zM88.5 114.1 110.4 124.8 112.7 121.2 90.9 110.5zM90.7 110.8 112.6 121.4 114.9 117.8 93 107.1zM92.9 107.4 114.7 118.1 117.1 114.4 95.2 103.8zM91.4 102.3 116.9 114.7 119.2 111.1 93.8 98.7z"/>
<path fill="#fdd49e" d="M278 569 317.9 588.4 320.2 584.8 280.4 565.4zM280.2 565.7 320 585.1 322.4 581.4 282.5 562zM282.4 562.3 322.2 581.7 324.5 578.1 284.7 558.6zM284.5 558.9 324.4 578.3 326.7 574.7 286.9 555.3zM402.7 316 410.2 319.6 412.5 316 405 312.4zM404.9 312.6 419.5 319.8 421.9 316.2 407.2 309zM407 309.3 421.7 316.4 424 312.8 409.4 305.6zM409.2 305.9 427.5 314.8 429.8 311.2 411.5 302.3zM388.4 264.8 403 272 405.4 268.3 390.7 261.2zM390.5 261.4 405.2 268.6 407.5 265 392.9 257.8zM392.7 258.1 407.4 265.2 409.7 261.6 395 254.4zM446.6 284.4 450.5 286.3 452.8 282.6 449 280.7zM394.9 254.7 413.1 263.6 415.5 260 397.2 251.1zM448.8 281 463.5 288.2 465.8 284.5 451.1 277.4zM450.9 277.6 465.6 284.8 467.9 281.2 453.3 274zM453.1 274.3 467.8 281.4 470.1 277.8 455.4 270.6zM455.3 270.9 469.9 278.1 472.3 274.4 457.6 267.3z"/>
<path fill="#fca46e" d="M274.5 545.2 289.1 552.3 291.5 548.7 276.8 541.5zM276.6 541.8 291.3 549 293.6 545.3 279 538.2zM282.4 540.2 289.9 543.8 292.2 540.2 284.7 536.6zM284.6 536.8 292 540.5 294.4 536.8 286.9 533.2zM268.8 480.5 287 489.4 289.4 485.8 271.1 476.9zM270.9 477.1 289.2 486.1 291.5 482.4 273.3 473.5zM273.1 473.8 291.4 482.7 293.7 479.1 275.4 470.1zM275.3 470.4 293.5 479.3 295.9 475.7 277.6 466.8zM358 488.7 376.2 497.6 378.6 493.9 360.3 485zM360.1 485.3 378.4 494.2 380.7 490.6 362.5 481.7zM362.3 481.9 380.6 490.8 382.9 487.2 364.6 478.3zM364.4 478.6 382.7 487.5 385 483.8 366.8 474.9zM370.2 476.9 384.9 484.1 387.2 480.5 372.5 473.3zM158.2 285.1 176.4 294 178.8 290.4 160.5 281.5zM160.3 281.8 175 288.9 177.3 285.3 162.7 278.1zM162.5 278.4 177.2 285.5 179.5 281.9 164.8 274.8zM164.6 275 179.3 282.2 181.7 278.5 167 271.4zM166.8 271.7 181.5 278.8 183.8 275.2 169.1 268zM169 268.3 183.6 275.4 186 271.8 171.3 264.7zM440.1 294.5 454.8 301.6 457.1 298 442.5 290.8zM442.3 291.1 457 298.3 459.3 294.6 444.6 287.5zM444.5 287.7 459.1 294.9 461.5 291.3 446.8 284.1zM450.2 286.1 461.3 291.5 463.6 287.9 452.6 282.5z"/>
<path fill="#fc8d59" d="M268.7 524.7 287 533.6 289.3 530 271.1 521.1zM270.9 521.3 289.2 530.2 291.5 526.6 273.2 517.7zM273.1 518 291.3 526.9 293.7 523.2 275.4 514.3zM275.2 514.6 293.5 523.5 295.8 519.9 277.6 511zM291.1 416.3 305.8 423.4 308.1 419.8 293.5 412.6zM293.3 412.9 308 420.1 310.3 416.4 295.6 409.3zM347.2 439.2 361.9 446.4 364.2 442.7 349.6 435.6zM295.5 409.5 310.1 416.7 312.5 413.1 297.8 405.9zM349.4 435.8 364 443 366.4 439.4 351.7 432.2zM351.5 432.5 366.2 439.6 368.5 436 353.9 428.8zM353.7 429.1 368.4 436.3 370.7 432.6 356 425.5zM130.9 209.9 145.6 217.1 147.9 213.5 133.2 206.3zM133.1 206.6 154.9 217.2 157.3 213.6 135.4 202.9zM135.2 203.2 157.1 213.9 159.4 210.2 137.6 199.6zM137.4 199.8 159.2 210.5 161.6 206.9 139.7 196.2zM139.5 196.5 161.4 207.1 163.7 203.5 141.9 192.8zM159.7 201.9 163.6 203.8 165.9 200.1 162 198.2z"/>
<path fill="#ef6548" d="M286.7 555.6 326.5 575 328.9 571.3 289 551.9zM288.9 552.2 328.7 571.6 331 568 291.2 548.6zM291 548.8 330.8 568.2 333.2 564.6 293.3 545.2zM289.6 543.7 333 564.9 335.3 561.2 291.9 540.1zM291.7 540.3 335.2 561.5 337.5 557.9 294.1 536.7zM279.6 463.7 297.8 472.6 300.2 469 281.9 460zM281.7 460.3 300 469.2 302.3 465.6 284.1 456.7zM283.9 457 302.2 465.9 304.5 462.2 286.2 453.3zM289.7 455.3 304.3 462.5 306.7 458.9 292 451.7zM358 422.4 365.5 426 367.8 422.4 360.4 418.7zM360.2 419 374.9 426.2 377.2 422.5 362.5 415.4zM362.3 415.7 377 422.8 379.3 419.2 364.7 412zM364.5 412.3 379.2 419.4 381.5 415.8 366.8 408.6zM366.7 408.9 381.3 416.1 383.7 412.4 369 405.3zM97.8 246.8 105.3 250.5 107.6 246.8 100.1 243.2zM96.3 241.7 107.4 247.1 109.7 243.5 98.7 238.1zM98.5 238.3 109.6 243.7 111.9 240.1 100.8 234.7zM97.1 233.2 111.7 240.4 114.1 236.7 99.4 229.6zM370.3 366.5 385 373.6 387.3 370 372.6 362.9zM95.6 228.1 113.9 237 116.2 233.4 98 224.5zM372.5 363.1 387.1 370.3 389.5 366.6 374.8 359.5zM374.6 359.8 389.3 366.9 391.6 363.3 377 356.1zM376.8 356.4 391.5 363.5 393.8 359.9 379.1 352.8zM138.8 227.1 160.7 237.7 163 234.1 141.1 223.4zM141 223.7 162.8 234.4 165.1 230.7 143.3 220.1zM143.1 220.3 165 231 167.3 227.4 145.5 216.7zM386.2 334.4 390 336.3 392.4 332.7 388.5 330.8zM388.3 331.1 392.2 333 394.5 329.3 390.6 327.4zM390.5 327.7 394.4 329.6 396.7 326 392.8 324.1zM392.6 324.3 396.5 326.2 398.9 322.6 395 320.7zM194.3 148 212.5 156.9 214.9 153.3 196.6 144.4zM196.4 144.7 214.7 153.6 217 149.9 198.7 141zM195 139.5 216.8 150.2 219.2 146.6 197.3 135.9z"/>
<path fill="#e34b34" d="M337 558 340.9 559.9 343.3 556.3 339.4 554.4zM339.2 554.6 343.1 556.5 345.4 552.9 341.5 551zM341.4 551.3 345.2 553.2 347.6 549.5 343.7 547.6zM343.5 547.9 347.4 549.8 349.7 546.2 345.9 544.3zM345.7 544.5 349.6 546.4 351.9 542.8 348 540.9zM275.9 506.1 279.8 508 282.2 504.4 278.3 502.5zM347.8 541.2 351.7 543.1 354.1 539.4 350.2 537.5zM278.1 502.7 282 504.6 284.3 501 280.4 499.1zM350 537.8 353.9 539.7 356.2 536.1 352.3 534.2zM280.3 499.4 284.2 501.3 286.5 497.6 282.6 495.7zM352.2 534.4 356.1 536.3 358.4 532.7 354.5 530.8zM282.4 496 286.3 497.9 288.6 494.3 284.8 492.4zM354.3 531.1 358.2 533 360.5 529.3 356.7 527.4zM281 490.9 288.5 494.5 290.8 490.9 283.3 487.3zM356.5 527.7 360.4 529.6 362.7 526 358.8 524.1zM358.7 524.4 362.5 526.2 364.9 522.6 361 520.7zM360.8 521 364.7 522.9 367 519.2 363.1 517.3zM363 517.6 366.9 519.5 369.2 515.9 365.3 514zM365.1 514.3 369 516.1 371.4 512.5 367.5 510.6zM332.8 454.3 351.1 463.2 353.4 459.6 335.2 450.7zM335 450.9 353.2 459.8 355.6 456.2 337.3 447.3zM340.7 449.3 355.4 456.5 357.7 452.8 343.1 445.7zM342.9 445.9 357.6 453.1 359.9 449.5 345.2 442.3zM345.1 442.6 359.7 449.7 362.1 446.1 347.4 438.9zM307.7 397.8 318.8 403.2 321.1 399.6 310 394.2zM306.3 392.7 320.9 399.9 323.3 396.2 308.6 389.1zM308.4 389.3 323.1 396.5 325.4 392.9 310.8 385.7zM310.6 386 325.2 393.1 327.6 389.5 312.9 382.3zM316.3 384.4 327.4 389.8 329.7 386.1 318.7 380.7zM379.6 388.7 394.3 395.9 396.6 392.2 382 385.1zM112.2 253.8 123.2 259.2 125.6 255.6 114.5 250.2zM148.1 271.4 162.8 278.5 165.1 274.9 150.4 267.7zM381.8 385.4 396.5 392.5 398.8 388.9 384.1 381.7zM107.1 247 125.4 255.9 127.7 252.2 109.5 243.3zM150.3 268 164.9 275.2 167.3 271.5 152.6 264.4zM380.4 380.2 398.6 389.1 401 385.5 382.7 376.6zM109.3 243.6 127.6 252.5 129.9 248.9 111.6 240zM148.8 262.9 167.1 271.8 169.4 268.2 151.2 259.3zM382.5 376.9 400.8 385.8 403.1 382.1 384.9 373.2zM111.4 240.2 129.7 249.1 132 245.5 113.8 236.6zM151 259.5 165.7 266.7 168 263 153.3 255.9zM113.6 236.9 131.9 245.8 134.2 242.1 115.9 233.2zM375.3 351.3 379.2 353.2 381.6 349.5 377.7 347.6zM370.3 344.4 381.4 349.8 383.7 346.2 372.7 340.8zM361.7 335.8 380 344.7 382.3 341 364 332.1zM363.9 332.4 382.1 341.3 384.5 337.7 366.2 328.8zM366 329 384.3 337.9 386.6 334.3 368.4 325.4zM184.8 236.2 203.1 245.2 205.4 241.5 187.2 232.6zM379 330.9 386.4 334.6 388.8 330.9 381.3 327.3zM154.6 217.1 172.9 226 175.2 222.4 157 213.5zM190.6 234.6 201.7 240 204 236.4 192.9 231zM156.8 213.7 175.1 222.6 177.4 219 159.1 210.1zM192.7 231.3 203.8 236.7 206.1 233 195.1 227.6zM159 210.4 177.2 219.3 179.5 215.6 161.3 206.7zM194.9 227.9 206 233.3 208.3 229.7 197.2 224.3zM161.1 207 179.4 215.9 181.7 212.3 163.4 203.4zM197.1 224.5 208.1 229.9 210.5 226.3 199.4 220.9zM163.3 203.6 181.5 212.5 183.9 208.9 165.6 200zM199.2 221.2 210.3 226.6 212.6 222.9 201.6 217.5zM375.4 285 390.1 292.2 392.4 288.5 377.7 281.4zM377.6 281.6 392.2 288.8 394.6 285.2 379.9 278zM379.7 278.3 394.4 285.4 396.7 281.8 382.1 274.6zM381.9 274.9 396.6 282.1 398.9 278.4 384.2 271.3z"/>
<path fill="#d7301f" d="M340 479.9 358.3 488.8 360.6 485.2 342.3 476.3zM342.2 476.5 360.4 485.4 362.7 481.8 344.5 472.9zM344.3 473.2 362.6 482.1 364.9 478.4 346.6 469.5zM350.1 471.5 364.7 478.7 367.1 475.1 352.4 467.9zM352.2 468.2 366.9 475.3 369.2 471.7 354.6 464.5zM131.6 245.6 142.7 251 145 247.4 133.9 242zM133.7 242.3 152 251.2 154.3 247.5 136.1 238.6zM135.9 238.9 154.2 247.8 156.5 244.2 138.2 235.3zM138.1 235.5 156.3 244.5 158.7 240.8 140.4 231.9zM151 237.4 158.5 241.1 160.8 237.4 153.3 233.8z"/>
<path fill="#c51810" d="M286.1 453.6 289.9 455.5 292.3 451.8 288.4 449.9zM288.2 450.2 306.5 459.1 308.8 455.5 290.6 446.6zM290.4 446.9 308.6 455.8 311 452.1 292.7 443.2zM292.5 443.5 310.8 452.4 313.1 448.8 294.9 439.9zM294.7 440.1 313 449 315.3 445.4 297 436.5zM122.9 259.1 148.4 271.5 150.7 267.9 125.3 255.5zM125.1 255.7 150.6 268.2 152.9 264.5 127.4 252.1zM127.3 252.4 149.1 263 151.5 259.4 129.6 248.7zM129.4 249 151.3 259.7 153.6 256 131.8 245.4zM334.3 349 338.2 350.8 340.6 347.2 336.7 345.3zM142.4 250.9 153.4 256.3 155.8 252.7 144.7 247.3zM336.5 345.6 354.8 354.5 357.1 350.9 338.8 342zM338.7 342.2 356.9 351.1 359.3 347.5 341 338.6zM337.2 337.1 355.5 346 357.8 342.4 339.6 333.5zM343 335.5 375.6 351.4 378 347.8 345.3 331.9zM345.2 332.1 370.6 344.5 372.9 340.9 347.5 328.5zM347.3 328.8 362 335.9 364.3 332.3 349.6 325.1zM349.5 325.4 364.1 332.5 366.5 328.9 351.8 321.8zM351.6 322 366.3 329.2 368.6 325.5 354 318.4zM353.8 318.7 379.3 331.1 381.6 327.4 356.1 315zM176.2 227.6 190.9 234.8 193.2 231.1 178.5 224zM174.8 222.5 193 231.4 195.4 227.8 177.1 218.9zM176.9 219.1 195.2 228 197.5 224.4 179.3 215.5zM179.1 215.8 197.4 224.7 199.7 221 181.4 212.1zM181.2 212.4 199.5 221.3 201.8 217.7 183.6 208.8zM194.2 214.3 201.7 217.9 204 214.3 196.5 210.7zM415 260.1 429.7 267.3 432 263.6 417.3 256.5zM417.2 256.7 431.8 263.9 434.2 260.3 419.5 253.1zM419.3 253.4 434 260.5 436.3 256.9 421.6 249.7zM421.5 250 436.1 257.2 438.5 253.5 423.8 246.4zM434.4 251.9 438.3 253.8 440.6 250.2 436.8 248.3z"/>
<path fill="#b30000" d="M277.4 511.2 295.6 520.1 298 516.5 279.7 507.6zM96.2 352.2 110.9 359.3 113.2 355.7 98.6 348.5zM98.4 348.8 113.1 356 115.4 352.3 100.7 345.2zM100.6 345.4 115.2 352.6 117.6 349 102.9 341.8zM348.6 466.4 352.5 468.3 354.9 464.7 351 462.8zM83.4 284 101.6 292.9 104 289.3 85.7 280.4zM140.9 312.1 155.5 319.2 157.9 315.6 143.2 308.4zM81.9 278.9 107.4 291.3 109.7 287.7 84.3 275.2zM143 308.7 157.7 315.8 160 312.2 145.4 305.1zM84.1 275.5 109.5 287.9 111.9 284.3 86.4 271.9zM145.2 305.3 159.9 312.5 162.2 308.8 147.5 301.7zM82.6 270.4 111.7 284.6 114 280.9 85 266.8zM147.4 302 162 309.1 164.4 305.5 149.7 298.3zM84.8 267 113.9 281.2 116.2 277.6 87.1 263.4zM149.5 298.6 164.2 305.7 166.5 302.1 151.9 295zM368.8 405.6 383.5 412.7 385.8 409.1 371.2 401.9zM87 263.7 116 277.8 118.4 274.2 89.3 260zM371 402.2 385.7 409.3 388 405.7 373.3 398.6zM92.7 262 118.2 274.5 120.5 270.8 95.1 258.4zM373.2 398.8 387.8 406 390.2 402.3 375.5 395.2zM98.5 260.4 116.7 269.3 119.1 265.7 100.8 256.8zM375.3 395.5 390 402.6 392.3 399 377.6 391.8zM97 255.3 118.9 266 121.2 262.3 99.4 251.7zM377.5 392.1 392.1 399.2 394.5 395.6 379.8 388.5zM113.6 259 121.1 262.6 123.4 259 115.9 255.3zM155.3 252.8 159.2 254.7 161.5 251.1 157.7 249.2zM158.2 240.9 162.1 242.8 164.4 239.2 160.5 237.3zM160.4 237.6 164.2 239.5 166.6 235.8 162.7 233.9zM162.5 234.2 184.4 244.9 186.7 241.2 164.9 230.6zM164.7 230.8 183 239.8 185.3 236.1 167 227.2zM166.8 227.5 185.1 236.4 187.4 232.8 169.2 223.8zM394.8 321 398.7 322.9 401 319.2 397.1 317.3zM203.5 214.4 207.4 216.3 209.8 212.7 205.9 210.8zM205.7 211.1 224 220 226.3 216.3 208 207.4zM207.9 207.7 226.1 216.6 228.5 213 210.2 204.1zM210 204.3 228.3 213.2 230.6 209.6 212.4 200.7zM415 304.3 426 309.7 428.4 306.1 417.3 300.7zM219.4 204.5 230.5 209.9 232.8 206.2 221.7 200.8zM417.1 300.9 428.2 306.3 430.5 302.7 419.4 297.3zM419.3 297.6 433.9 304.7 436.3 301.1 421.6 293.9zM421.4 294.2 436.1 301.3 438.4 297.7 423.8 290.6zM215.8 158.5 234.1 167.5 236.4 163.8 218.2 154.9zM218 155.2 236.2 164.1 238.6 160.5 220.3 151.5zM220.1 151.8 238.4 160.7 240.7 157.1 222.5 148.2zM222.3 148.4 240.6 157.4 242.9 153.7 224.6 144.8z"/>
<path fill="#990000" d="M157.5 249.4 175.7 258.3 178.1 254.7 159.8 245.8zM159.6 246.1 177.9 255 180.2 251.3 162 242.4zM161.8 242.7 180.1 251.6 182.4 248 164.1 239.1zM164 239.3 182.2 248.2 184.6 244.6 166.3 235.7zM359.6 317 374.2 324.2 376.6 320.6 361.9 313.4zM361.7 313.7 376.4 320.8 378.7 317.2 364 310zM363.9 310.3 374.9 315.7 377.3 312.1 366.2 306.7zM366 307 377.1 312.4 379.4 308.7 368.4 303.3z"/>
<path fill="#7f0000" d="M286.7 533.5 337.3 558.2 339.7 554.5 289 529.8zM288.9 530.1 339.5 554.8 341.8 551.1 291.2 526.5zM291 526.7 341.7 551.4 344 547.8 293.4 523.1zM293.2 523.4 343.8 548.1 346.1 544.4 295.5 519.7zM295.4 520 346 544.7 348.3 541.1 297.7 516.4zM279.5 507.9 348.1 541.3 350.5 537.7 281.9 504.2zM281.7 504.5 350.3 538 352.6 534.3 284 500.9zM283.9 501.1 352.5 534.6 354.8 531 286.2 497.5zM286 497.8 354.6 531.2 357 527.6 288.4 494.1zM288.2 494.4 356.8 527.9 359.1 524.2 290.5 490.8zM286.8 489.3 358.9 524.5 361.3 520.9 289.1 485.6zM288.9 485.9 361.1 521.1 363.4 517.5 291.2 482.3zM291.1 482.5 363.3 517.8 365.6 514.1 293.4 478.9zM293.2 479.2 365.4 514.4 367.8 510.8 295.6 475.5zM295.4 475.8 367.6 511 369.9 507.4 297.7 472.2zM297.6 472.5 369.7 507.7 372.1 504 299.9 468.8zM299.7 469.1 371.9 504.3 374.2 500.7 302 465.4zM82.6 358.8 90 362.4 92.4 358.8 84.9 355.1zM301.9 465.7 374.1 500.9 376.4 497.3 304.2 462.1zM84.7 355.4 92.2 359 94.5 355.4 87.1 351.8zM304 462.4 340.3 480 342.6 476.4 306.4 458.7zM83.3 350.3 94.4 355.7 96.7 352 85.6 346.6zM306.2 459 342.4 476.7 344.8 473 308.5 455.4zM81.9 345.2 96.5 352.3 98.9 348.7 84.2 341.5zM308.4 455.6 344.6 473.3 346.9 469.7 310.7 452zM84 341.8 98.7 348.9 101 345.3 86.4 338.1zM310.5 452.3 350.4 471.7 352.7 468 312.9 448.6zM82.6 336.7 100.9 345.6 103.2 341.9 84.9 333zM312.7 448.9 348.9 466.6 351.3 462.9 315 445.3zM84.8 333.3 117.4 349.2 119.7 345.6 87.1 329.7zM296.9 436.8 333.1 454.4 335.4 450.8 299.2 433.1zM83.3 328.2 119.6 345.9 121.9 342.2 85.7 324.5zM299 433.4 335.3 451.1 337.6 447.4 301.4 429.8zM81.9 323.1 121.7 342.5 124.1 338.9 84.2 319.4zM301.2 430 341 449.5 343.4 445.8 303.5 426.4zM84 319.7 123.9 339.1 126.2 335.5 86.4 316.1zM303.3 426.7 343.2 446.1 345.5 442.5 305.7 423zM82.6 314.6 126 335.8 128.4 332.1 84.9 310.9zM305.5 423.3 345.3 442.7 347.7 439.1 307.8 419.7zM84.8 311.2 128.2 332.4 130.5 328.8 87.1 307.6zM307.7 419.9 347.5 439.4 349.8 435.7 310 416.3zM83.3 306.1 130.4 329 132.7 325.4 85.7 302.5zM309.8 416.6 349.7 436 352 432.4 312.2 412.9zM81.9 301 132.5 325.7 134.9 322 84.2 297.3zM312 413.2 351.8 432.6 354.2 429 314.3 409.6zM84.1 297.6 134.7 322.3 137 318.7 86.4 294zM314.2 409.8 354 429.3 356.3 425.6 316.5 406.2zM82.6 292.5 136.8 318.9 139.2 315.3 85 288.8zM316.3 406.5 356.2 425.9 358.5 422.3 318.6 402.8zM84.8 289.1 139 315.6 141.3 311.9 87.1 285.5zM318.5 403.1 358.3 422.5 360.6 418.9 320.8 399.5zM101.3 292.8 141.2 312.2 143.5 308.6 103.7 289.1zM320.6 399.7 360.5 419.2 362.8 415.5 323 396.1zM107.1 291.2 143.3 308.8 145.7 305.2 109.4 287.5zM322.8 396.4 362.6 415.8 365 412.2 325.1 392.7zM109.2 287.8 145.5 305.5 147.8 301.8 111.6 284.2zM325 393 364.8 412.4 367.1 408.8 327.3 389.4zM111.4 284.4 147.6 302.1 150 298.5 113.7 280.8zM327.1 389.6 367 409.1 369.3 405.4 329.5 386zM113.6 281.1 149.8 298.7 152.1 295.1 115.9 277.4zM314.9 379.3 369.1 405.7 371.4 402.1 317.2 375.6zM115.7 277.7 152 295.4 154.3 291.7 118.1 274.1zM317.1 375.9 371.3 402.3 373.6 398.7 319.4 372.2zM117.9 274.3 154.1 292 156.5 288.4 120.2 270.7zM319.2 372.5 373.4 399 375.8 395.3 321.6 368.9zM116.5 269.2 156.3 288.6 158.6 285 118.8 265.6zM325 370.9 375.6 395.6 377.9 392 327.3 367.3zM118.6 265.8 154.9 283.5 157.2 279.9 121 262.2zM327.1 367.5 377.8 392.2 380.1 388.6 329.5 363.9zM120.8 262.5 139 271.4 141.4 267.7 123.1 258.8zM329.3 364.2 379.9 388.9 382.3 385.2 331.6 360.5zM331.5 360.8 382.1 385.5 384.4 381.9 333.8 357.2zM333.6 357.4 380.6 380.4 383 376.7 336 353.8zM335.8 354.1 382.8 377 385.1 373.4 338.1 350.4zM337.9 350.7 370.6 366.6 372.9 363 340.3 347.1zM354.5 354.4 372.7 363.3 375.1 359.6 356.8 350.7zM356.6 351 374.9 359.9 377.2 356.3 359 347.4zM355.2 345.9 377.1 356.5 379.4 352.9 357.5 342.2zM373.9 324.1 388.6 331.2 390.9 327.6 376.3 320.4zM376.1 320.7 390.8 327.9 393.1 324.2 378.4 317.1zM374.7 315.6 392.9 324.5 395.3 320.8 377 311.9zM376.8 312.2 395.1 321.1 397.4 317.5 379.2 308.6zM368.2 303.6 397.2 317.8 399.6 314.1 370.5 299.9zM370.4 300.2 403 316.1 405.3 312.5 372.7 296.6zM167.6 196.9 203.8 214.6 206.2 210.9 169.9 193.3zM372.5 296.9 405.2 312.8 407.5 309.1 374.9 293.2zM169.8 193.5 206 211.2 208.3 207.6 172.1 189.9zM374.7 293.5 407.3 309.4 409.7 305.8 377 289.9zM168.3 188.4 208.2 207.8 210.5 204.2 170.7 184.8zM376.8 290.1 409.5 306 411.8 302.4 379.2 286.5zM170.5 185.1 210.3 204.5 212.7 200.8 172.8 181.4zM389.8 292 415.2 304.4 417.6 300.8 392.1 288.4zM172.6 181.7 212.5 201.1 214.8 197.5 175 178.1zM391.9 288.6 417.4 301.1 419.7 297.4 394.3 285zM160.4 171.3 229 204.8 231.4 201.1 162.8 167.7zM394.1 285.3 419.6 297.7 421.9 294.1 396.4 281.6zM162.6 167.9 231.2 201.4 233.5 197.8 164.9 164.3zM396.3 281.9 421.7 294.3 424.1 290.7 398.6 278.3zM164.7 164.6 233.3 198 235.7 194.4 167.1 160.9zM398.4 278.6 438.3 298 440.6 294.3 400.8 274.9zM166.9 161.2 235.5 194.7 237.8 191 169.2 157.6zM400.6 275.2 440.4 294.6 442.8 291 402.9 271.5zM169.1 157.8 237.7 191.3 240 187.7 171.4 154.2zM402.8 271.8 442.6 291.2 444.9 287.6 405.1 268.2zM171.2 154.5 239.8 187.9 242.2 184.3 173.6 150.8zM404.9 268.5 444.7 287.9 447.1 284.2 407.2 264.8zM173.4 151.1 242 184.6 244.3 180.9 175.7 147.5zM407.1 265.1 446.9 284.5 449.2 280.9 409.4 261.5zM175.6 147.7 244.1 181.2 246.5 177.6 177.9 144.1zM412.8 263.5 449.1 281.1 451.4 277.5 415.2 259.8zM177.7 144.4 246.3 177.8 248.6 174.2 180 140.7zM429.4 267.1 451.2 277.8 453.6 274.1 431.7 263.5zM431.5 263.8 453.4 274.4 455.7 270.8 433.9 260.1zM433.7 260.4 455.6 271.1 457.9 267.4 436 256.8zM435.9 257 457.7 267.7 460 264 438.2 253.4zM438 253.7 456.3 262.6 458.6 258.9 440.4 250z"/>
<path fill="none" stroke="#000" stroke-width="0.85" stroke-linejoin="round" d="M340 342.3 L351.2 324.7 L356 316.8 L366.4 308.8 L370.4 304 L376.8 292.8 L380 286.4 L388 276 L396 270.4 L407.2 266.4 L419.9 264 L426.3 261.6 L428.7 264 L429.5 262.4 L425.5 259.2 L427.1 255.2 L432.7 250.4 L439.9 248.8 L446.3 251.2 L450.3 256 L455.1 259.2 L459.1 261.6 L459.7 261.4 L468.9 263.8 L475 266.3 L476.9 273.1 L480 276.1 L486.7 276.7 L480 279.2 L472.6 285.4 L467.7 292.7 L466.4 300.1 L467.7 310 L468.9 316.1 L473.8 317.3 L470.7 319.8 L471.3 324.7 L469.3 329.5 L463.3 335.4 L462.4 346.3 L452.5 357.1 L446.6 368.9 L447.6 376.8 L444.6 388.6 L438.7 410.2 L434.8 428 L432.8 441.7 L426.9 451.6 L425.9 460 L419.2 472.3 L404.4 494.4 L389.6 509.2 L378.6 527.6 L373 549.7 L373 571.9 L369.3 586.6 L369.1 586.8 L360.2 581.9 L356.3 583.9 L353.3 576 L355.3 566.1 L351.4 556.3 L346.5 544.5 L338.6 536.6 L328.7 530.7 L318.9 525.8 L315 520.9 L310 511 L305.1 493.3 L302.2 479.5 L299.2 474.6 L296.3 476.6 L292.3 469.7 L291.3 459.8 L295.3 450 L292.3 452 L297.2 440.2 L299.2 432.4 L298.2 422.5 L300.2 408.7 L307.1 391 L317.9 377.2 L328.7 359.5 L338.6 343.8 L348.4 330 L340 342.3"/>
<path fill="none" stroke="#000" stroke-width="0.85" stroke-linejoin="round" d="M286.4 434.3 L292.3 427.4 L297.2 422.9 L294.3 429.4 L286.4 434.3"/>
<path fill="none" stroke="#000" stroke-width="0.85" stroke-linejoin="round" d="M431.3 509.9 L435.8 510.6 L435.4 514.3 L432.4 513.6 L431.3 509.9"/>
<path fill="none" stroke="#000" stroke-width="0.85" stroke-linejoin="round" d="M435 570 L441.3 570.4 L444.2 574.8 L442 577.4 L437.6 575.6 L435 570"/>
<path fill="none" stroke="#000" stroke-width="0.85" stroke-linejoin="round" d="M588 330 L581 330.3 L579.5 331.8 L581 333.2 L588 333.4"/>
<path fill="none" stroke="#000" stroke-width="0.85" stroke-linejoin="round" d="M318 81.1 L320.7 80.1 L323.4 82.4 L322 85.1 L318.6 83.8 L318 81.1"/>
<path fill="none" stroke="#000" stroke-width="0.85" stroke-linejoin="round" d="M303.1 79.3 L308.5 80.1 L309.6 83.8 L306.5 86.1 L301 84.7 L297 87.9 L290.2 87.9 L290.9 90.6 L288.2 93.3 L289.8 96 L297.7 97.3 L296.6 102.1 L300.4 105.9 L299 109.5 L296.3 109.1 L298.3 113.6 L293.6 114.2 L292.2 115.9 L286.8 115.6 L282.1 118 L278.7 121.7 L274.7 125.3 L270.6 125.3 L268.4 122.4 L270.3 118.6 L274.7 116.3 L279 115.6 L283 112.9 L286.8 106.8 L290.9 100.7 L293.3 97.5 L284.1 98 L278 98.8 L276.7 101.4 L278.2 104.2 L275.5 107.5 L273.6 109.6 L271.4 108.8 L272.2 112.2 L274.7 112.3"/>
<path fill="none" stroke="#000" stroke-width="0.85" stroke-linejoin="round" d="M300.4 79.1 L303.7 81.1 L307.8 80.4 L309.8 78.8"/>
<path fill="none" stroke="#000" stroke-width="0.85" stroke-linejoin="round" d="M243.5 98.7 L246.9 98 L248.3 101.4 L250.3 102.1 L251.7 98.7 L255 96 L259.1 96.7 L261.8 100 L262.5 96.7 L264.5 93.9 L269.2 92.3 L269.9 94.6 L266.5 96 L265.5 100 L264.9 104.1 L266.3 106.8 L269.2 107.5 L270.6 111.5"/>
<path fill="none" stroke="#000" stroke-width="0.85" stroke-linejoin="round" d="M253.7 98 L256.4 96.4 L258.4 99.4 L258.7 104.1 L257.1 106.8 L255 104.8 L253.7 101.4 L253.7 98"/>
<path fill="none" stroke="#000" stroke-width="0.85" stroke-linejoin="round" d="M243.5 98.7 L240.8 101.4 L240.6 105.4 L242.9 108.2 L244.9 107.5 L245.6 110.9 L243.5 112.2 L240.1 111.8 L239.5 114.9 L241.5 117.6 L244.9 120.3 L248.9 118.3 L252.3 116.3 L257.1 116.3 L259.1 118.3 L262.5 119.7 L263.2 122.4 L261.8 123.7 L264.5 127.1 L266.5 130.5 L267.2 134.5 L264.5 136.6 L264.9 138.6 L267.9 136.6 L270.6 138.6 L271.9 141.3 L276.7 142 L280.3 140.6 L279.4 142.7 L276 144.7 L273.3 146.7 L269.2 145.4 L265.9 147.4 L264.5 149.4 L261.1 148.7 L257.1 150.1 L253 150.8 L250.3 152.8 L251.7 156.2 L248.9 158.2 L246.2 160.3 L244.2 163 L242.2 165 L239.5 168.4 L238.1 172.4 L234.7 175.8 L232 179.9 L230 180.5"/>
<path fill="none" stroke="#000" stroke-width="0.85" stroke-linejoin="round" d="M242.9 131.2 L246.2 130.5 L250.3 128.5 L253 129.8 L255.7 133.2 L259.1 135.2 L263.2 135.9 L263.8 138.6 L261.8 141.3 L260.4 144.7 L257.1 145.4 L254.4 146 L253 143.3 L251.7 140 L250.3 135.9 L247.6 133.2 L244.2 133.9 L242.4 132.5 L242.9 131.2"/>
<path fill="none" stroke="#000" stroke-width="0.85" stroke-linejoin="round" d="M242.9 165 L246.2 165.9 L248.7 168.4 L247.6 170.8 L244.2 171.1 L241.5 169 L240.8 166.7 L242.9 165"/>
<path fill="none" stroke="#000" stroke-width="0.85" stroke-linejoin="round" d="M248.9 176.5 L253 175.8 L255.4 178.5 L255 181.9 L253.7 185"/>
<path fill="none" stroke="#000" stroke-width="0.85" stroke-linejoin="round" d="M227.4 180.4 L224.7 177.7 L219.2 176.4 L213.8 175 L209.1 173 L205.7 168.9 L202.3 167.6 L197.6 164.9 L194.2 163.1 L195.6 164.2 L200.3 167.6 L203.7 168.3 L207.1 172.3 L209.1 177.1 L212.5 180.4 L219.2 181.4 L224.7 180.9 L227.4 180.4"/>
<path fill="none" stroke="#000" stroke-width="0.85" stroke-linejoin="round" d="M205.7 168.9 L207.1 174.4 L209.8 179.1 L215.2 182.5 L221.9 183.2 L227.4 181.8 L230.1 179.8 L234.8 175.7"/>
<path fill="none" stroke="#000" stroke-width="0.85" stroke-linejoin="round" d="M210.4 176.4 L213.8 174.4 L219.2 175 L223.3 177.1 L225.3 179.1 L220.6 180.4 L214.5 180.4 L211.1 178.4 L210.4 176.4"/>
<path fill="none" stroke="#000" stroke-width="0.85" stroke-linejoin="round" d="M234.8 175.7 L240.9 173 L246.3 174.4 L250.4 175 L254.4 176.4 L255.8 179.8 L254.4 183.8 L251 187.2 L247.7 189.2 L245 191.9 L242.9 189.9 L243.6 193.3 L246.3 196.7 L247 201.4 L245 203.5 L246.3 205.5 L243.6 208.2 L239.5 207.5 L235.5 208.9 L230.7 209.5 L231.4 213.6 L234.1 216.3 L233.5 219.7 L236.8 221 L240.9 221.7 L242.9 219.7 L243.6 223.7 L244.3 227.8 L247 229.8 L249 233.9 L250.4 238 L249.7 242 L246.3 243.4 L243.6 242 L244.3 238 L242.9 233.9 L240.2 232.5 L238.9 236.6 L239.5 240 L234.8 240.4 L235.5 236.6 L236.2 231.2 L233.5 230.5 L232.1 232.5 L229.4 232.5 L228.7 228.5 L226 226.5 L221.9 225.8 L219.9 223.7"/>
<path fill="none" stroke="#000" stroke-width="0.85" stroke-linejoin="round" d="M215.9 217 L219.2 217 L220.6 219.7 L219.2 223.1 L217.9 228.5 L217.2 233.9 L214.5 234.6 L213.2 231.2 L213.8 225.8 L215.9 221 L215.9 217"/>
<path fill="none" stroke="#000" stroke-width="0.85" stroke-linejoin="round" d="M215.9 217 L213.2 221.7 L211.1 227.8 L204.4 232.5 L196.2 235.9 L198.9 240 L202.3 244.7 L205 242 L207.1 244.7 L204.4 248.8 L205.7 250.8 L209.1 247.4 L212.5 244.7 L215.9 247.4 L218.6 250.1 L219.9 252.2 L215.9 254.2 L212.5 256.2 L211.8 260"/>
<path fill="none" stroke="#000" stroke-width="0.85" stroke-linejoin="round" d="M220.6 219.7 L223.3 219"/>
<path fill="none" stroke="#000" stroke-width="0.85" stroke-linejoin="round" d="M257.8 213.6 L262.5 211.6 L263.9 215 L268 217 L272.7 221 L269.3 223.7 L266.6 225.8 L268.6 229.8 L266.6 231.9 L262.5 233.2 L261.2 236.6 L257.1 235.9 L254.4 233.9 L255.8 230.5 L253.1 228.5 L255.1 227.1 L259.8 227.1 L262.5 225.1 L261.2 222.4 L257.8 221 L255.8 218.3 L255.1 216.3 L257.8 213.6"/>
<path fill="none" stroke="#000" stroke-width="0.85" stroke-linejoin="round" d="M230.1 254.2 L233.5 252.6 L236.2 254.9 L239.5 256.9 L241.6 258.3 L240.6 260.3 L236.8 258.9 L234.1 259.9 L232.1 257.6 L230.1 255.5 L230.1 254.2"/>
<path fill="none" stroke="#000" stroke-width="0.85" stroke-linejoin="round" d="M211.2 225 L207.1 229.1 L200.4 233.1 L195.6 235.8 L199 239.2 L202.4 242.6 L203.7 245.3 L206.5 242.6 L207.8 245.3 L205.8 248.7 L203.7 250.7 L205.1 251.4 L208.5 247.3 L211.2 245.3 L214.6 244.6 L216.6 248 L220 251.4 L220.7 253.4 L216.6 254.1 L213.2 256.1 L213.9 259.5 L211.2 260.5 L208.5 258.2 L205.1 259.5 L202.4 258.2 L200.4 255.4 L197 256.8 L195.6 260.2 L197.7 262.9 L200.4 264.2 L197 265.6 L193.6 266.3 L191.6 264.2 L189.5 264.9 L188.9 262.2 L190.9 258.8 L192.2 255.4 L189.5 252.1 L186.8 250 L182.8 249.4 L178.7 250.7 L174.7 252.7 L172.6 254.8 L176 256.8 L176.7 260.2 L180.1 261.5 L182.1 264.2 L181.4 266.9 L176.7 267.6 L171.9 268.3 L170.6 271 L172.6 274.4 L176.7 275.7 L180.7 277.1 L184.1 275.7 L185.5 272.4 L184.8 277.1 L183.5 280.5 L186.8 282.5 L184.1 283.9 L180.7 282.5 L177.4 283.2 L176 285.9 L178 288.6 L182.1 288.6 L182.8 290.6 L178 291 L175.3 290 L173.3 287.9 L169.2 288.6 L164.5 287.9 L161.8 291.3 L157.1 293.3 L155 291.3 L157.7 288.6 L156.4 285.2 L154.4 283.2 L151 283.9 L150.3 286.6 L152.3 288.6 L148.9 291.3 L145.6 291.3 L142.2 289.3"/>
<path fill="none" stroke="#000" stroke-width="0.85" stroke-linejoin="round" d="M145.6 291.3 L147.6 294.7 L150.3 298.1 L155 297.4 L158.4 299.4 L161.8 302.1 L160.4 306.2 L157.1 308.9 L153.7 310.9 L150.3 309.6 L148.9 313 L150.3 316.3 L151.7 318.4 L148.9 319.7 L145.6 321.8 L142.9 325.1 L140.1 324.5 L141.5 321.1 L138.1 318.4 L134.1 317 L130 315"/>
<path fill="none" stroke="#000" stroke-width="0.85" stroke-linejoin="round" d="M213.9 225 L213.2 230.4 L214.6 235.1 L217.3 233.8 L218.6 229.7 L219.3 225"/>
<path fill="none" stroke="#000" stroke-width="0.85" stroke-linejoin="round" d="M222 225.7 L227.4 227 L230.8 229.1 L230.1 232.4 L233.5 231.1 L236.2 232.4 L235.5 237.2 L234.2 240.6 L240 240.6"/>
<path fill="none" stroke="#000" stroke-width="0.85" stroke-linejoin="round" d="M230.1 254.1 L232.8 252.1 L236.2 254.8 L238.3 256.8 L241 257.7 L240.3 260.5 L236.9 260.9 L234.2 258.2 L231.5 257.5 L230.1 255.4 L230.1 254.1"/>
<path fill="none" stroke="#000" stroke-width="0.85" stroke-linejoin="round" d="M146.3 290 L150.4 292.7 L147.7 296.1 L150.4 299.5 L153.7 296.8 L157.1 298.8 L159.8 300.8 L161.9 302.9 L159.2 306.9 L155.1 308.3 L151 310.3 L149 313.7 L151.7 316.4 L153.7 319.1 L150.4 322.5 L146.3 324.5 L142.2 325.9 L140.2 323.8 L142.2 321.1 L139.5 319.1 L135.5 317.1 L130.7 315 L127.4 314.4 L128.7 311 L127.4 308.3 L125.3 311 L126.7 315 L123.3 317.7 L119.2 319.1 L115.2 318.4 L111.8 320.4 L109.1 323.2 L106.4 321.1 L104.4 318.4 L105.7 315 L103.7 312.3 L101.7 308.9 L99.6 312.3 L97.6 315.7 L94.9 317.1 L92.2 319.1 L89.5 317.7 L86.1 319.1"/>
<path fill="none" stroke="#000" stroke-width="0.85" stroke-linejoin="round" d="M93.5 323.8 L96.9 321.8 L100.3 322.5 L103.7 324.5 L102.3 328.6 L100.3 330.6 L101.7 333.3 L97.6 334.7 L93.5 332.6 L92.2 329.2 L94.2 327.2 L92.9 325.2 L93.5 323.8"/>
<path fill="none" stroke="#000" stroke-width="0.85" stroke-linejoin="round" d="M113.8 329.9 L117.2 328.6 L120.6 329.2 L123.3 326.5 L126.7 325.5 L130.1 327.2 L132.1 330.6 L131.4 335.3 L128.7 336 L126 332.6 L122.6 333.3 L119.9 336.7 L115.9 338 L113.2 336 L114.5 333.3 L113.2 331.3 L113.8 329.9"/>
<path fill="none" stroke="#000" stroke-width="0.85" stroke-linejoin="round" d="M86.1 336.7 L88.8 338.7 L88.1 342.1 L90.8 344.1 L94.2 343.5 L96.9 346.2 L97.6 349.5 L94.2 352.2 L90.8 354.3 L88.1 356.3 L86.1 357.7"/>
<path fill="none" stroke="#000" stroke-width="0.85" stroke-linejoin="round" d="M86.1 323.8 L88.8 325.9 L89.5 329.2 L86.1 330.6"/>
<path fill="none" stroke="#000" stroke-width="0.85" stroke-linejoin="round" d="M229.4 421.4 L232 420.1 L233.7 415.4 L235.4 413.3 L236.7 414.1 L235.4 416.7 L234.5 420.1 L232.4 421 L229.4 421.4"/>
<path fill="none" stroke="#000" stroke-width="0.85" stroke-linejoin="round" d="M240.1 411.1 L242.3 410.2 L244.5 411.5 L244.5 414.5 L243.2 415.4 L241.4 413.7 L240.1 411.1"/>
<path fill="none" stroke="#000" stroke-width="0.85" stroke-linejoin="round" d="M238.4 423.2 L240.1 419.7 L242.3 418 L245.3 417.6 L247.9 418.4 L250.1 417.6 L251.8 419.3 L252.6 422.3 L250.5 421.9 L247.9 422.3 L246.2 424 L244 425.7 L241.4 426.6 L239.3 425.3 L238.4 423.2"/>
<path fill="none" stroke="#000" stroke-width="0.85" stroke-linejoin="round" d="M242.3 418 L241 421 L243.2 423.2 L246.2 421.4"/>
<path fill="none" stroke="#000" stroke-width="0.85" stroke-linejoin="round" d="M480.3 666 L481.1 666.6"/>
<path fill="none" stroke="#000" stroke-width="0.85" stroke-linejoin="round" d="M478.4 670.7 L479.2 671.3"/>
<polygon fill="#000" points="313.2,100.9 306.2,106.5 305.9,105.1 302.4,110.3 308.2,108 306.9,107.4 314,101.8"/>
<polygon fill="#000" points="428.1,105.7 422.9,114.8 422.1,113.6 420.8,119.7 425.3,115.5 423.9,115.4 429.1,106.3"/>
<polygon fill="#000" points="561.1,77 559.7,80.4 558.8,79.4 558.2,85.5 562.2,80.8 560.8,80.9 562.3,77.5"/>
<polygon fill="#000" points="530.2,172.1 525.7,182.8 524.7,181.8 524.1,187.9 528.1,183.2 526.8,183.3 531.3,172.6"/>
<polygon fill="#000" points="333.6,270.3 325.3,284.2 324.5,283 323.1,289 327.7,284.9 326.3,284.8 334.6,270.9"/>
<polygon fill="#000" points="372.6,303.9 369,312 368.1,310.9 367.3,317.1 371.4,312.4 370.1,312.5 373.7,304.4"/>
<polygon fill="#000" points="327.3,334.3 320.2,349.8 319.3,348.7 318.5,354.9 322.7,350.3 321.3,350.3 328.4,334.8"/>
<polygon fill="#000" points="551.7,324.6 547.9,330.6 547.1,329.4 545.5,335.4 550.2,331.4 548.9,331.2 552.7,325.2"/>
<polygon fill="#000" points="526.5,341.9 523.3,347.9 522.5,346.7 521.2,352.8 525.7,348.5 524.3,348.4 527.6,342.5"/>
<polygon fill="#000" points="501.7,359.5 500.6,365.2 499.5,364.4 500.2,370.5 503.1,365 501.8,365.4 502.8,359.7"/>
<polygon fill="#000" points="149.8,432 143.5,444.9 142.7,443.8 141.8,449.9 146,445.4 144.6,445.4 150.9,432.6"/>
<polygon fill="#000" points="205.9,417.2 199.4,432.7 198.4,431.6 197.9,437.8 201.9,433.1 200.5,433.1 207,417.7"/>
<polygon fill="#000" points="261.1,457.5 257.1,472 256,471.1 256.2,477.3 259.6,472.1 258.2,472.3 262.2,457.8"/>
<polygon fill="#000" points="135.1,489.9 128.9,502.1 128,501 127,507.1 131.3,502.7 129.9,502.6 136.2,490.5"/>
<polygon fill="#000" points="150.4,539.8 145.5,551.3 144.6,550.3 144,556.5 148,551.8 146.6,551.8 151.6,540.3"/>
<polygon fill="#000" points="136.9,562.7 131.1,574 130.2,572.9 129.2,579 133.5,574.6 132.1,574.5 138,563.2"/>
<polygon fill="#000" points="230.8,600.2 228.9,607.6 227.9,606.7 228.2,612.9 231.5,607.6 230.1,607.9 232,600.5"/>
<polygon fill="#000" points="241.4,658.6 236,664.6 235.5,663.3 232.8,668.9 238.2,665.8 236.9,665.4 242.3,659.4"/>
<polygon fill="#000" points="170.8,357.1 162.3,371.3 161.5,370.1 160.1,376.1 164.7,372 163.3,371.9 171.8,357.7"/>
<polygon fill="#000" points="251.2,325.6 244,339.9 243.1,338.8 242.1,344.9 246.4,340.5 245.1,340.5 252.3,326.1"/>
<polygon fill="#000" points="555.3,442.1 552.3,448 551.4,446.9 550.3,453 554.7,448.6 553.3,448.6 556.4,442.7"/>
<polygon fill="#000" points="467.9,524 463.9,531.1 463.1,530 461.8,536 466.3,531.8 464.9,531.7 468.9,524.6"/>
<polygon fill="#000" points="564.6,520.7 560.7,526.8 560,525.6 558.4,531.6 563.1,527.6 561.7,527.4 565.6,521.3"/>
<polygon fill="#000" points="427,586.7 422.1,594.1 421.4,592.9 419.7,598.8 424.5,595 423.1,594.7 428,587.4"/>
<polygon fill="#000" points="567.2,619.9 562.6,627.5 561.8,626.3 560.3,632.3 565,628.3 563.6,628.1 568.2,620.6"/>
<polygon fill="#000" points="506.7,640.6 501.7,648.6 500.9,647.5 499.4,653.5 504.1,649.4 502.7,649.3 507.7,641.3"/>
<polygon fill="#000" points="313.2,579 314.3,580.3 316,580.6 312.4,583.6"/>
<polygon fill="#000" points="208.2,88.2 208.5,89.2 209.4,89.8 206.6,90.8"/>
<polygon fill="#000" points="238.7,116.2 239,117.4 239.9,118.2 236.6,119"/>
<polygon fill="#000" points="152.3,178.4 153,179.3 154.1,179.6 151.4,181.4"/>
<polygon fill="#000" points="89.4,203.3 90.5,204 91.8,203.9 89.8,206.9"/>
<polygon fill="#000" points="177.6,232.3 178.5,234.3 180.4,235.3 174.8,237.6"/>
<polygon fill="#000" points="135.3,278.5 135.8,279.9 137.1,280.7 133.2,282.2"/>
<polygon fill="#000" points="461.3,275.3 460.3,277.7 459.6,277 459.3,281.4 462.1,278 461.1,278 462.1,275.6"/>
<path d="M486.4 78.4 V678.2 M85.4 378.5 H586.5" stroke="#555" stroke-width="1.2" stroke-dasharray="1.39 2.29" stroke-dashoffset="1.15" fill="none"/>
</g>
<rect x="85.4" y="78.4" width="501.1" height="599.8000000000001" fill="none" stroke="#000" stroke-width="1.1"/>
<path d="M486.4 678.2 v4.9 M85.4 378.5 h-4.9" stroke="#000" stroke-width="1.1" fill="none"/>
<text x="74.5" y="385.9" font-size="20" text-anchor="end">24°N</text>
<text x="486.4" y="702.6" font-size="20" text-anchor="middle">122°E</text>
<text x="335" y="33.2" font-size="34.7" text-anchor="middle">SO2 at surface</text>
<text x="336.3" y="70" font-size="34.7" text-anchor="middle">Time: 2024-03-02 07:00:00</text>
<polygon points="39.9,770.5 631.6,770.5 631.6,799.7 39.9,799.7 39.9,770.5 39.9,770.5" fill="url(#cb)" stroke="none"/>
<polygon points="40.4,770.5 10.2,785.1 40.4,799.7" fill="#fff7ec"/>
<polygon points="631.1,770.5 660.9,785.1 631.1,799.7" fill="#7f0000"/>
<polygon points="39.9,770.5 631.6,770.5 660.9,785.1 631.6,799.7 39.9,799.7 10.2,785.1" fill="none" stroke="#000" stroke-width="1.1" stroke-linejoin="miter"/>
<path d="M40.4 799.7 v4.9" stroke="#000" stroke-width="1.1"/>
<text x="40.4" y="821.3" font-size="16.67" text-anchor="middle">0.0</text>
<path d="M188.2 799.7 v4.9" stroke="#000" stroke-width="1.1"/>
<text x="188.2" y="821.3" font-size="16.67" text-anchor="middle">0.5</text>
<path d="M336 799.7 v4.9" stroke="#000" stroke-width="1.1"/>
<text x="336" y="821.3" font-size="16.67" text-anchor="middle">1.0</text>
<path d="M483.7 799.7 v4.9" stroke="#000" stroke-width="1.1"/>
<text x="483.7" y="821.3" font-size="16.67" text-anchor="middle">1.5</text>
<path d="M631.5 799.7 v4.9" stroke="#000" stroke-width="1.1"/>
<text x="631.5" y="821.3" font-size="16.67" text-anchor="middle">2.0</text>
<text x="755" y="786.7" font-size="20.8" font-weight="bold" font-style="italic" text-anchor="middle">SO2 (ppbv)</text>
</svg></body></html>
